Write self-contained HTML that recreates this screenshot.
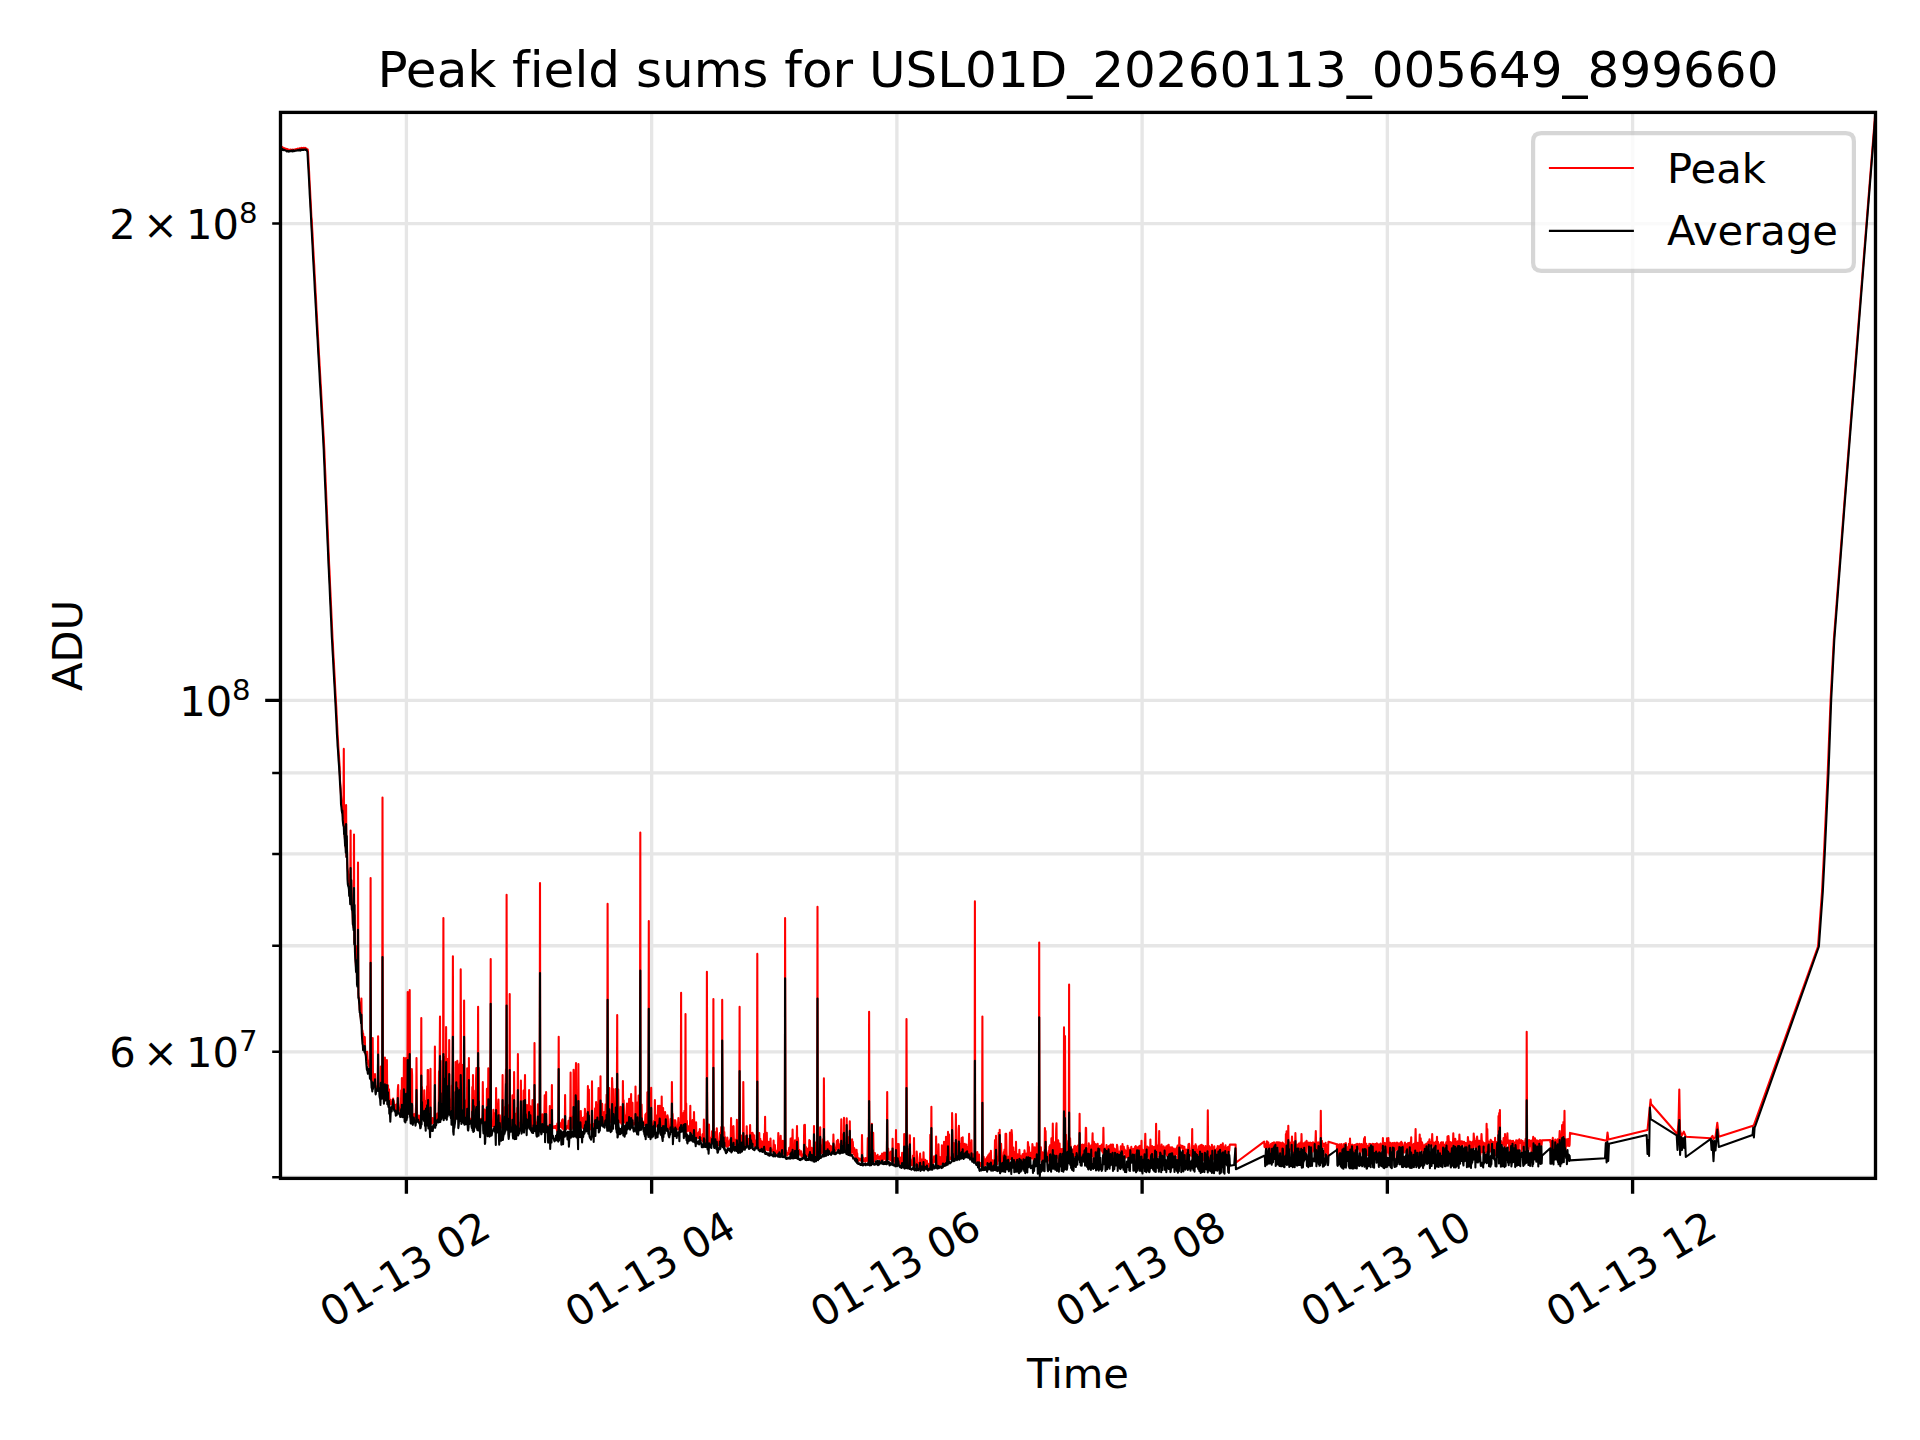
<!DOCTYPE html>
<html lang="en"><head><meta charset="utf-8"><title>Peak field sums for USL01D_20260113_005649_899660</title>
<style>html,body{margin:0;padding:0;background:#fff;overflow:hidden}svg{display:block}text{font-variant-ligatures:none;fill:#000}</style></head>
<body>
<svg width="1920" height="1440" viewBox="0 0 1920 1440">
<defs><clipPath id="ax"><rect x="280.5" y="112.4" width="1595.0" height="1066.0"/></clipPath></defs>
<rect width="1920" height="1440" fill="#fff"/>
<path d="M406.40 1178.4V112.4M651.64 1178.4V112.4M896.88 1178.4V112.4M1142.12 1178.4V112.4M1387.36 1178.4V112.4M1632.60 1178.4V112.4M280.5 700.40H1875.5M280.5 223.57H1875.5M280.5 772.88H1875.5M280.5 853.91H1875.5M280.5 945.76H1875.5M280.5 1051.81H1875.5M280.5 1177.23H1875.5" fill="none" stroke="#e6e6e6" stroke-width="3.33" clip-path="url(#ax)"/>
<path d="M406.40 1178.4v15.4M651.64 1178.4v15.4M896.88 1178.4v15.4M1142.12 1178.4v15.4M1387.36 1178.4v15.4M1632.60 1178.4v15.4M280.5 700.40h-15.3" fill="none" stroke="#000" stroke-width="3.33"/>
<path d="M280.5 223.57h-8.3M280.5 772.88h-8.3M280.5 853.91h-8.3M280.5 945.76h-8.3M280.5 1051.81h-8.3M280.5 1177.23h-8.3" fill="none" stroke="#000" stroke-width="2.5"/>
<g clip-path="url(#ax)" fill="none" stroke-width="2.08" stroke-linejoin="round" stroke-linecap="butt">
<path d="M280.5 146.3L280.8 146.2L281.2 146.7L281.5 146.9L281.9 146.8L282.2 147.0L282.5 147.4L282.9 147.7L283.2 147.9L283.6 148.1L283.9 148.4L284.2 148.2L284.6 148.7L284.9 148.5L285.3 148.5L285.6 149.0L285.9 148.9L286.3 148.9L286.6 149.5L287.0 149.0L287.3 149.0L287.6 149.3L288.0 149.2L288.3 149.7L288.7 149.9L289.0 150.2L289.3 150.2L289.7 150.0L290.0 149.5L290.4 149.5L290.7 149.8L291.0 149.7L291.4 149.9L291.7 149.7L292.1 149.8L292.4 149.9L292.7 149.6L293.1 149.7L293.4 149.7L293.8 149.7L294.1 149.5L294.4 149.9L294.8 149.5L295.1 149.5L295.5 149.8L295.8 149.6L296.1 149.1L296.5 149.1L296.8 149.3L297.2 149.3L297.5 149.4L297.8 148.7L298.2 148.9L298.5 148.7L298.9 148.7L299.2 148.4L299.5 148.4L299.9 148.6L300.2 148.2L300.6 148.2L300.9 148.4L301.2 148.2L301.6 147.9L301.9 148.3L302.3 148.6L302.6 148.1L302.9 148.2L303.3 147.8L303.6 148.6L304.0 148.4L304.3 148.0L304.6 148.2L305.0 147.8L305.3 148.4L305.7 148.2L306.0 148.9L306.3 148.6L306.7 148.8L307.0 149.2L307.4 149.2L307.7 149.5L308.0 151.9L308.4 158.9L308.7 165.5L309.1 171.8L309.4 178.5L309.7 184.9L310.1 190.7L310.4 197.2L310.8 204.1L311.1 210.3L311.4 217.0L311.8 220.7L312.1 227.3L312.5 233.5L312.8 239.8L313.1 246.6L313.5 252.6L313.8 259.2L314.2 265.0L314.5 271.9L314.8 277.8L315.2 284.3L315.5 290.7L315.9 297.3L316.2 303.0L316.5 310.0L316.9 315.9L317.2 322.3L317.6 329.2L317.9 334.9L318.2 340.5L318.6 347.1L318.9 353.2L319.3 359.1L319.6 365.3L319.9 370.9L320.3 377.1L320.6 382.9L321.0 388.6L321.3 395.0L321.6 400.6L322.0 407.3L322.3 412.7L322.7 419.1L323.0 424.7L323.3 431.1L323.7 437.1L324.0 443.2L324.4 451.4L324.7 459.5L325.0 467.3L325.4 475.2L325.7 483.5L326.1 492.0L326.4 499.5L326.7 507.5L327.1 515.7L327.4 524.1L327.8 532.1L328.1 540.4L328.4 548.4L328.8 555.7L329.1 563.8L329.5 570.8L329.8 578.5L330.1 585.9L330.5 593.3L330.8 600.9L331.2 608.8L331.5 615.9L331.8 623.2L332.2 630.8L332.5 638.1L332.9 643.8L333.2 650.8L333.5 656.9L333.9 662.8L334.2 669.0L334.6 676.0L334.9 682.1L335.2 688.3L335.6 695.0L335.9 700.9L336.3 707.3L336.6 714.3L336.9 720.7L337.3 727.8L337.6 734.5L338.0 740.4L338.3 746.2L338.6 751.5L339.0 756.3L339.3 761.5L339.7 767.2L340.0 780.5L340.4 785.3L340.7 790.4L341.0 795.4L341.4 800.2L341.7 803.5L342.1 807.5L342.4 808.8L342.7 814.2L343.1 818.2L343.4 821.6L343.8 748.9L344.1 828.9L344.4 831.9L344.8 836.5L345.1 840.5L345.5 844.7L345.8 847.9L346.1 805.0L346.5 856.4L346.8 840.0L347.2 856.1L347.5 868.0L347.8 870.2L348.2 874.6L348.5 878.4L348.9 874.8L349.2 886.0L349.5 887.9L349.9 890.9L350.2 895.5L350.6 830.6L350.9 900.9L351.2 880.0L351.6 902.0L351.9 909.2L352.3 907.6L352.6 913.5L352.9 924.0L353.3 924.5L353.6 927.3L354.0 834.5L354.3 942.8L354.6 915.0L355.0 952.1L355.3 952.0L355.7 962.3L356.0 967.0L356.3 970.0L356.7 946.3L357.0 979.1L357.4 982.6L357.7 968.2L358.0 862.5L358.4 993.9L358.7 996.7L359.1 1000.8L359.4 1003.8L359.7 1009.5L360.1 1011.9L360.4 1014.8L360.8 1017.5L361.1 1022.1L361.4 998.6L361.8 1026.5L362.1 1030.0L362.5 1030.8L362.8 1034.9L363.1 1033.4L363.5 1037.8L363.8 1042.4L364.2 1042.7L364.5 1045.2L364.8 1037.0L365.2 1050.9L365.5 1053.1L365.9 1054.0L366.2 1053.9L366.5 1056.9L366.9 1058.3L367.2 1051.8L367.6 1059.5L367.9 1060.1L368.2 1064.9L368.6 1064.9L368.9 1065.9L369.3 1066.1L369.6 1070.1L369.9 1068.0L370.3 1069.8L370.6 878.0L371.0 1073.8L371.3 1074.3L371.6 1077.1L372.0 1076.6L372.3 1078.3L372.7 1038.1L373.0 1080.4L373.3 1080.9L373.7 1083.5L374.0 1083.1L374.4 1083.3L374.7 1083.7L375.0 1074.0L375.4 1087.2L375.7 1086.0L376.1 1087.8L376.4 1088.8L376.7 1086.7L377.1 1089.2L377.4 1088.4L377.8 1085.5L378.1 1036.3L378.4 1088.4L378.8 1090.3L379.1 1087.3L379.5 1089.3L379.8 1089.1L380.1 1091.9L380.5 1092.8L380.8 1066.5L381.2 1092.9L381.5 1094.4L381.8 1093.8L382.2 1092.1L382.5 797.5L382.9 1092.9L383.2 1093.5L383.5 1093.8L383.9 1094.0L384.2 1097.0L384.6 1094.3L384.9 1057.6L385.2 1098.4L385.6 1096.0L385.9 1095.7L386.3 1097.5L386.6 1080.8L386.9 1060.0L387.3 1099.2L387.6 1099.4L388.0 1085.4L388.3 1097.7L388.6 1100.1L389.0 1089.3L389.3 1099.7L389.7 1101.7L390.0 1102.4L390.3 1104.5L390.7 1099.7L391.0 1104.4L391.4 1104.2L391.7 1103.0L392.0 1104.2L392.4 1102.1L392.7 1105.2L393.1 1098.5L393.4 1103.7L393.7 1100.6L394.1 1102.9L394.4 1107.3L394.8 1107.0L395.1 1104.8L395.4 1105.4L395.8 1107.2L396.1 1110.6L396.5 1105.9L396.8 1110.0L397.1 1103.7L397.5 1104.1L397.8 1090.1L398.2 1085.0L398.5 1102.7L398.8 1107.9L399.2 1108.5L399.5 1109.9L399.9 1108.3L400.2 1109.5L400.5 1112.8L400.9 1109.3L401.2 1090.3L401.6 1112.9L401.9 1078.1L402.2 1111.8L402.6 1111.2L402.9 1111.8L403.3 1110.3L403.6 1113.0L403.9 1057.9L404.3 1104.6L404.6 1115.7L405.0 1110.4L405.3 1111.9L405.6 1113.5L406.0 1058.0L406.3 1110.9L406.7 1115.2L407.0 1111.3L407.3 1113.4L407.7 992.0L408.0 1113.3L408.4 1110.6L408.7 1111.1L409.0 1112.0L409.4 1059.2L409.7 990.0L410.1 1115.5L410.4 1114.4L410.7 1116.0L411.1 1116.7L411.4 1115.3L411.8 1069.0L412.1 1075.0L412.4 1118.7L412.8 1115.6L413.1 1116.9L413.5 1115.5L413.8 1114.3L414.1 1117.0L414.5 1117.5L414.8 1118.1L415.2 1113.9L415.5 1116.1L415.8 1111.0L416.2 1103.0L416.5 1058.0L416.9 1106.3L417.2 1120.0L417.5 1116.1L417.9 1117.9L418.2 1119.0L418.6 1119.1L418.9 1115.6L419.2 1120.2L419.6 1121.7L419.9 1120.1L420.3 1121.2L420.6 1121.2L420.9 1122.4L421.3 1018.0L421.6 1116.5L422.0 1087.1L422.3 1117.5L422.6 1118.8L423.0 1110.9L423.3 1115.6L423.7 1117.2L424.0 1120.0L424.3 1090.3L424.7 1104.2L425.0 1122.7L425.4 1122.5L425.7 1122.3L426.0 1100.8L426.4 1110.5L426.7 1122.9L427.1 1086.3L427.4 1124.8L427.7 1070.1L428.1 1070.0L428.4 1120.6L428.8 1124.4L429.1 1124.7L429.4 1104.8L429.8 1119.6L430.1 1123.4L430.5 1068.9L430.8 1123.0L431.1 1122.6L431.5 1123.1L431.8 1123.0L432.2 1123.5L432.5 1118.1L432.8 1123.0L433.2 1120.5L433.5 1119.2L433.9 1118.4L434.2 1118.8L434.5 1121.1L434.9 1046.5L435.2 1119.1L435.6 1120.5L435.9 1120.8L436.2 1119.8L436.6 1120.6L436.9 1117.7L437.3 1113.6L437.6 1117.5L437.9 1118.0L438.3 1118.0L438.6 1119.2L439.0 1071.4L439.3 1095.6L439.6 1066.6L440.0 1016.5L440.3 1117.5L440.7 1060.9L441.0 1115.3L441.3 1112.3L441.7 1113.1L442.0 1093.1L442.4 1111.9L442.7 1111.7L443.0 1111.6L443.4 918.0L443.7 1111.6L444.1 1056.8L444.4 1106.2L444.7 1114.6L445.1 1109.3L445.4 1109.9L445.8 1086.6L446.1 1027.0L446.4 1112.5L446.8 1111.9L447.1 1068.5L447.5 1110.8L447.8 1111.1L448.1 1058.7L448.5 1110.7L448.8 1110.7L449.2 1040.0L449.5 1107.1L449.8 1112.3L450.2 1111.5L450.5 1113.0L450.9 1112.2L451.2 1099.4L451.5 1115.8L451.9 1085.6L452.2 1090.7L452.6 1060.3L452.9 956.2L453.2 1115.9L453.6 1115.1L453.9 1114.9L454.3 1115.7L454.6 1119.2L454.9 1116.6L455.3 1117.3L455.6 1062.0L456.0 1065.1L456.3 1067.5L456.6 1115.4L457.0 1108.7L457.3 1060.7L457.7 1071.6L458.0 1082.6L458.3 1118.4L458.7 1119.6L459.0 1118.8L459.4 1064.3L459.7 1115.7L460.1 1063.0L460.4 1118.2L460.7 969.4L461.1 1065.1L461.4 1115.8L461.8 1065.7L462.1 1116.5L462.4 1065.1L462.8 1120.0L463.1 1119.9L463.5 1116.4L463.8 1120.4L464.1 1000.5L464.5 1115.6L464.8 1111.7L465.2 1100.3L465.5 1119.2L465.8 1119.0L466.2 1117.9L466.5 1117.9L466.9 1111.8L467.2 1068.3L467.5 1106.4L467.9 1119.4L468.2 1121.1L468.6 1121.0L468.9 1058.0L469.2 1119.2L469.6 1120.8L469.9 1120.3L470.3 1121.3L470.6 1118.7L470.9 1119.7L471.3 1122.6L471.6 1121.2L472.0 1121.3L472.3 1087.0L472.6 1121.8L473.0 1075.0L473.3 1121.4L473.7 1090.5L474.0 1122.2L474.3 1116.2L474.7 1121.5L475.0 1122.0L475.4 1121.1L475.7 1120.9L476.0 1080.0L476.4 1068.0L476.7 1123.1L477.1 1115.2L477.4 1122.6L477.7 1108.1L478.1 1006.8L478.4 1125.9L478.8 1067.9L479.1 1122.5L479.4 1123.6L479.8 1122.4L480.1 1125.0L480.5 1123.2L480.8 1121.7L481.1 1118.8L481.5 1121.9L481.8 1121.3L482.2 1119.9L482.5 1119.5L482.8 1082.0L483.2 1120.4L483.5 1122.1L483.9 1116.7L484.2 1121.9L484.5 1109.5L484.9 1123.8L485.2 1122.2L485.6 1123.7L485.9 1124.9L486.2 1110.2L486.6 1124.5L486.9 1088.9L487.3 1123.6L487.6 1123.5L487.9 1123.9L488.3 1068.2L488.6 1126.5L489.0 1127.1L489.3 1118.0L489.6 1122.0L490.0 1120.8L490.3 1100.9L490.7 959.0L491.0 1124.9L491.3 1123.8L491.7 1122.0L492.0 1126.7L492.4 1123.0L492.7 1125.3L493.0 1123.7L493.4 1109.7L493.7 1126.2L494.1 1123.2L494.4 1113.0L494.7 1124.0L495.1 1126.3L495.4 1124.0L495.8 1124.6L496.1 1088.0L496.4 1126.8L496.8 1123.1L497.1 1123.8L497.5 1126.3L497.8 1124.8L498.1 1108.4L498.5 1099.6L498.8 1120.9L499.2 1124.0L499.5 1123.3L499.8 1115.3L500.2 1121.8L500.5 1127.1L500.9 1124.7L501.2 1123.6L501.5 1124.2L501.9 1124.9L502.2 1127.8L502.6 1075.0L502.9 1126.4L503.2 1120.2L503.6 1122.5L503.9 1125.7L504.3 1121.6L504.6 1120.5L504.9 1107.1L505.3 1125.1L505.6 1084.1L506.0 1069.4L506.3 1115.7L506.6 894.8L507.0 1123.4L507.3 1123.4L507.7 1126.6L508.0 1105.2L508.3 1123.2L508.7 1110.0L509.0 1122.5L509.4 1124.1L509.7 994.0L510.0 1127.6L510.4 1125.6L510.7 1126.2L511.1 1124.9L511.4 1125.3L511.7 1126.3L512.1 1125.2L512.4 1095.4L512.8 1124.4L513.1 1125.5L513.4 1116.6L513.8 1125.6L514.1 1072.0L514.5 1125.3L514.8 1123.4L515.1 1113.5L515.5 1125.3L515.8 1120.0L516.2 1126.0L516.5 1127.3L516.8 1124.9L517.2 1107.8L517.5 1124.9L517.9 1054.0L518.2 1120.2L518.5 1125.0L518.9 1126.4L519.2 1122.9L519.6 1123.0L519.9 1128.2L520.2 1127.5L520.6 1123.1L520.9 1080.5L521.3 1124.8L521.6 1129.1L521.9 1123.3L522.3 1124.5L522.6 1125.9L523.0 1123.7L523.3 1124.5L523.6 1090.5L524.0 1119.7L524.3 1098.5L524.7 1091.3L525.0 1075.0L525.3 1107.0L525.7 1108.0L526.0 1124.1L526.4 1124.9L526.7 1126.7L527.0 1105.1L527.4 1124.9L527.7 1127.5L528.1 1124.5L528.4 1124.8L528.7 1124.1L529.1 1090.0L529.4 1125.7L529.8 1124.1L530.1 1125.8L530.4 1106.3L530.8 1125.9L531.1 1125.6L531.5 1127.3L531.8 1124.2L532.1 1120.8L532.5 1100.0L532.8 1127.5L533.2 1127.5L533.5 1113.3L533.8 1127.2L534.2 1125.1L534.5 1043.0L534.9 1123.7L535.2 1124.5L535.5 1127.6L535.9 1122.6L536.2 1128.0L536.6 1128.6L536.9 1126.0L537.2 1122.8L537.6 1118.1L537.9 1104.4L538.3 1127.3L538.6 1130.2L538.9 1126.8L539.3 1125.4L539.6 1128.7L540.0 883.0L540.3 1112.4L540.6 1127.3L541.0 1127.5L541.3 1124.1L541.7 1127.9L542.0 1126.7L542.3 1114.3L542.7 1124.9L543.0 1126.5L543.4 1126.3L543.7 1127.0L544.0 1123.7L544.4 1113.5L544.7 1095.3L545.1 1126.3L545.4 1128.8L545.7 1110.5L546.1 1092.0L546.4 1125.4L546.8 1127.2L547.1 1127.2L547.4 1125.9L547.8 1126.5L548.1 1126.0L548.5 1129.3L548.8 1127.1L549.1 1128.3L549.5 1128.8L549.8 1106.1L550.2 1128.9L550.5 1127.8L550.8 1130.1L551.2 1127.5L551.5 1126.2L551.9 1085.0L552.2 1124.6L552.5 1127.0L552.9 1127.7L553.2 1126.7L553.6 1127.4L553.9 1128.0L554.2 1126.3L554.6 1126.9L554.9 1127.2L555.3 1126.1L555.6 1128.2L555.9 1128.3L556.3 1126.1L556.6 1125.5L557.0 1130.6L557.3 1123.6L557.6 1128.3L558.0 1128.4L558.3 1127.8L558.7 1036.7L559.0 1125.7L559.3 1123.1L559.7 1122.6L560.0 1126.1L560.4 1125.9L560.7 1124.6L561.0 1127.1L561.4 1127.4L561.7 1124.6L562.1 1120.0L562.4 1128.1L562.7 1119.4L563.1 1127.2L563.4 1129.5L563.8 1125.7L564.1 1124.1L564.4 1126.8L564.8 1128.9L565.1 1095.0L565.5 1128.9L565.8 1128.2L566.1 1128.2L566.5 1128.8L566.8 1127.1L567.2 1126.0L567.5 1127.7L567.8 1127.6L568.2 1125.5L568.5 1120.8L568.9 1128.6L569.2 1128.8L569.5 1126.9L569.9 1117.4L570.2 1129.2L570.6 1072.6L570.9 1126.4L571.2 1129.5L571.6 1129.2L571.9 1128.1L572.3 1127.3L572.6 1116.5L572.9 1127.4L573.3 1126.4L573.6 1069.7L574.0 1099.0L574.3 1080.6L574.6 1107.5L575.0 1128.4L575.3 1120.4L575.7 1074.8L576.0 1063.0L576.3 1128.0L576.7 1129.2L577.0 1096.7L577.4 1129.1L577.7 1127.5L578.1 1126.7L578.4 1064.0L578.7 1120.4L579.1 1126.3L579.4 1127.1L579.8 1125.8L580.1 1127.7L580.4 1112.5L580.8 1111.1L581.1 1120.6L581.5 1126.5L581.8 1124.3L582.1 1117.7L582.5 1127.4L582.8 1121.4L583.2 1128.4L583.5 1127.3L583.8 1124.0L584.2 1116.7L584.5 1127.1L584.9 1108.9L585.2 1112.1L585.5 1127.2L585.9 1113.8L586.2 1126.9L586.6 1123.5L586.9 1124.8L587.2 1126.7L587.6 1115.1L587.9 1086.0L588.3 1129.3L588.6 1105.3L588.9 1089.6L589.3 1127.0L589.6 1124.8L590.0 1129.4L590.3 1124.9L590.6 1126.9L591.0 1124.8L591.3 1127.7L591.7 1128.0L592.0 1081.4L592.3 1127.4L592.7 1126.1L593.0 1127.2L593.4 1124.1L593.7 1124.8L594.0 1126.7L594.4 1124.8L594.7 1125.9L595.1 1108.4L595.4 1124.7L595.7 1120.2L596.1 1102.0L596.4 1124.9L596.8 1104.5L597.1 1125.2L597.4 1111.2L597.8 1124.5L598.1 1121.7L598.5 1088.0L598.8 1122.7L599.1 1123.1L599.5 1121.8L599.8 1122.8L600.2 1120.6L600.5 1076.3L600.8 1123.2L601.2 1108.2L601.5 1122.1L601.9 1121.0L602.2 1103.9L602.5 1119.4L602.9 1122.4L603.2 1121.4L603.6 1123.4L603.9 1121.9L604.2 1112.1L604.6 1120.3L604.9 1123.0L605.3 1113.7L605.6 1104.3L605.9 1120.6L606.3 1121.8L606.6 1094.7L607.0 1122.7L607.3 1120.6L607.6 903.7L608.0 1083.7L608.3 1115.6L608.7 1122.0L609.0 1121.0L609.3 1088.1L609.7 1122.6L610.0 1119.6L610.4 1121.2L610.7 1121.9L611.0 1120.7L611.4 1118.1L611.7 1116.6L612.1 1078.0L612.4 1088.1L612.7 1121.1L613.1 1120.5L613.4 1089.0L613.8 1122.4L614.1 1119.6L614.4 1118.5L614.8 1119.9L615.1 1115.8L615.5 1121.0L615.8 1089.0L616.1 1120.2L616.5 1119.4L616.8 1114.9L617.2 1015.0L617.5 1122.2L617.8 1116.4L618.2 1089.3L618.5 1110.4L618.9 1114.6L619.2 1122.2L619.5 1115.9L619.9 1109.9L620.2 1122.5L620.6 1106.7L620.9 1120.5L621.2 1118.5L621.6 1123.9L621.9 1117.8L622.3 1116.3L622.6 1122.7L622.9 1081.0L623.3 1122.1L623.6 1100.2L624.0 1110.3L624.3 1120.8L624.6 1122.4L625.0 1121.2L625.3 1120.0L625.7 1115.2L626.0 1123.9L626.3 1119.0L626.7 1108.4L627.0 1103.5L627.4 1121.7L627.7 1114.2L628.0 1122.8L628.4 1123.4L628.7 1123.7L629.1 1098.8L629.4 1125.2L629.7 1123.0L630.1 1124.7L630.4 1122.6L630.8 1119.5L631.1 1094.0L631.4 1124.4L631.8 1125.9L632.1 1119.8L632.5 1102.7L632.8 1125.2L633.1 1122.7L633.5 1122.8L633.8 1123.3L634.2 1124.2L634.5 1123.8L634.8 1123.9L635.2 1124.4L635.5 1086.6L635.9 1123.2L636.2 1124.5L636.5 1126.9L636.9 1125.9L637.2 1123.2L637.6 1102.4L637.9 1125.8L638.2 1122.4L638.6 1095.6L638.9 1125.5L639.3 1114.3L639.6 1127.1L639.9 1124.9L640.3 832.5L640.6 1113.6L641.0 1119.0L641.3 1128.3L641.6 1104.6L642.0 1121.9L642.3 1124.8L642.7 1122.5L643.0 1121.6L643.3 1125.7L643.7 1123.1L644.0 1125.2L644.4 1124.3L644.7 1122.9L645.0 1124.4L645.4 1114.5L645.7 1124.2L646.1 1113.5L646.4 1123.6L646.7 1115.1L647.1 1127.4L647.4 1092.3L647.8 1125.9L648.1 1107.3L648.4 1125.7L648.8 921.0L649.1 1126.5L649.5 1092.6L649.8 1114.0L650.1 1125.7L650.5 1126.3L650.8 1126.0L651.2 1087.8L651.5 1125.1L651.8 1126.2L652.2 1125.2L652.5 1125.5L652.9 1127.0L653.2 1126.1L653.5 1125.4L653.9 1121.0L654.2 1121.4L654.6 1126.0L654.9 1100.0L655.2 1126.6L655.6 1126.9L655.9 1125.6L656.3 1119.1L656.6 1126.3L656.9 1115.4L657.3 1126.0L657.6 1126.4L658.0 1105.9L658.3 1128.4L658.6 1119.2L659.0 1122.2L659.3 1108.5L659.7 1105.7L660.0 1109.2L660.3 1123.3L660.7 1126.3L661.0 1128.5L661.4 1124.6L661.7 1096.5L662.0 1120.8L662.4 1128.2L662.7 1124.6L663.1 1108.0L663.4 1127.0L663.7 1126.6L664.1 1129.4L664.4 1127.4L664.8 1126.6L665.1 1112.0L665.4 1124.6L665.8 1116.3L666.1 1126.5L666.5 1125.3L666.8 1128.1L667.1 1126.9L667.5 1115.3L667.8 1117.1L668.2 1128.5L668.5 1128.8L668.8 1128.7L669.2 1126.4L669.5 1127.0L669.9 1129.2L670.2 1126.3L670.5 1119.1L670.9 1129.0L671.2 1126.1L671.6 1128.6L671.9 1082.0L672.2 1114.0L672.6 1113.8L672.9 1125.8L673.3 1128.7L673.6 1125.3L673.9 1127.1L674.3 1120.3L674.6 1127.6L675.0 1131.3L675.3 1120.4L675.6 1122.5L676.0 1126.8L676.3 1128.3L676.7 1129.5L677.0 1129.2L677.3 1128.4L677.7 1128.4L678.0 1125.8L678.4 1118.1L678.7 1127.2L679.0 1129.8L679.4 1129.4L679.7 1124.2L680.1 1122.6L680.4 1129.0L680.7 1130.3L681.1 992.8L681.4 1128.1L681.8 1130.5L682.1 1127.4L682.4 1118.9L682.8 1125.2L683.1 1130.3L683.5 1112.7L683.8 1130.3L684.1 1120.4L684.5 1110.7L684.8 1114.9L685.2 1122.3L685.5 1014.0L685.8 1121.9L686.2 1103.6L686.5 1131.9L686.9 1120.7L687.2 1131.0L687.5 1125.6L687.9 1126.2L688.2 1130.0L688.6 1130.6L688.9 1129.8L689.2 1129.2L689.6 1129.5L689.9 1131.7L690.3 1105.8L690.6 1132.2L690.9 1131.3L691.3 1123.3L691.6 1133.2L692.0 1133.1L692.3 1129.8L692.6 1120.0L693.0 1130.7L693.3 1133.7L693.7 1134.7L694.0 1112.0L694.3 1125.8L694.7 1136.6L695.0 1134.4L695.4 1133.7L695.7 1136.1L696.1 1122.3L696.4 1138.4L696.7 1134.5L697.1 1135.9L697.4 1135.7L697.8 1133.4L698.1 1135.2L698.4 1138.0L698.8 1132.1L699.1 1137.3L699.5 1132.8L699.8 1129.1L700.1 1138.9L700.5 1139.1L700.8 1139.7L701.2 1138.8L701.5 1137.8L701.8 1139.8L702.2 1140.0L702.5 1134.4L702.9 1141.4L703.2 1138.5L703.5 1141.8L703.9 1119.5L704.2 1139.1L704.6 1141.8L704.9 1140.4L705.2 1140.2L705.6 1142.8L705.9 1142.7L706.3 1139.6L706.6 1138.0L706.9 971.8L707.3 1114.6L707.6 1140.2L708.0 1141.6L708.3 1143.8L708.6 1140.8L709.0 1124.5L709.3 1136.7L709.7 1137.3L710.0 1141.2L710.3 1140.9L710.7 1142.7L711.0 1142.9L711.4 1141.5L711.7 1143.0L712.0 1131.3L712.4 1136.3L712.7 1142.3L713.1 1141.4L713.4 999.0L713.7 1129.4L714.1 1144.3L714.4 1144.2L714.8 1144.4L715.1 1143.4L715.4 1132.3L715.8 1144.5L716.1 1144.0L716.5 1144.6L716.8 1128.2L717.1 1134.7L717.5 1143.2L717.8 1141.4L718.2 1145.0L718.5 1144.7L718.8 1145.2L719.2 1143.8L719.5 1143.0L719.9 1133.1L720.2 1143.7L720.5 1141.7L720.9 1136.5L721.2 1127.1L721.6 1136.4L721.9 1142.0L722.2 999.8L722.6 1136.1L722.9 1145.1L723.3 1136.9L723.6 1127.4L723.9 1143.9L724.3 1132.1L724.6 1144.4L725.0 1137.1L725.3 1145.6L725.6 1141.3L726.0 1144.2L726.3 1143.2L726.7 1144.4L727.0 1146.8L727.3 1137.6L727.7 1143.2L728.0 1146.4L728.4 1144.4L728.7 1144.2L729.0 1143.6L729.4 1145.1L729.7 1140.5L730.1 1140.2L730.4 1139.0L730.7 1141.3L731.1 1118.0L731.4 1145.6L731.8 1145.0L732.1 1145.1L732.4 1140.9L732.8 1140.3L733.1 1126.5L733.5 1126.2L733.8 1137.2L734.1 1144.3L734.5 1141.1L734.8 1144.7L735.2 1145.0L735.5 1145.2L735.8 1139.5L736.2 1140.1L736.5 1147.0L736.9 1119.8L737.2 1141.7L737.5 1134.3L737.9 1145.3L738.2 1148.2L738.6 1145.5L738.9 1138.6L739.2 1143.5L739.6 1006.8L739.9 1142.9L740.3 1145.2L740.6 1146.2L740.9 1138.6L741.3 1143.5L741.6 1135.5L742.0 1143.0L742.3 1136.9L742.6 1144.8L743.0 1145.4L743.3 1082.0L743.7 1133.2L744.0 1145.4L744.3 1143.8L744.7 1144.6L745.0 1143.3L745.4 1136.5L745.7 1140.7L746.0 1146.3L746.4 1142.8L746.7 1126.3L747.1 1144.3L747.4 1144.0L747.7 1143.3L748.1 1144.1L748.4 1139.0L748.8 1141.4L749.1 1141.1L749.4 1138.6L749.8 1139.0L750.1 1125.0L750.5 1143.7L750.8 1145.3L751.1 1132.8L751.5 1143.2L751.8 1141.5L752.2 1144.8L752.5 1132.9L752.8 1143.9L753.2 1134.4L753.5 1143.0L753.9 1144.2L754.2 1135.2L754.5 1146.3L754.9 1144.4L755.2 1140.2L755.6 1141.7L755.9 1147.0L756.2 1145.5L756.6 1145.8L756.9 1143.8L757.3 953.9L757.6 1146.1L757.9 1143.5L758.3 1146.1L758.6 1144.9L759.0 1147.8L759.3 1133.0L759.6 1144.4L760.0 1145.6L760.3 1138.9L760.7 1149.0L761.0 1145.0L761.3 1141.1L761.7 1142.9L762.0 1147.2L762.4 1148.7L762.7 1146.7L763.0 1147.6L763.4 1141.4L763.7 1145.4L764.1 1133.8L764.4 1144.0L764.7 1145.8L765.1 1116.7L765.4 1150.0L765.8 1137.9L766.1 1145.8L766.4 1141.3L766.8 1132.7L767.1 1148.9L767.5 1150.2L767.8 1141.8L768.1 1146.8L768.5 1149.7L768.8 1141.9L769.2 1150.5L769.5 1147.8L769.8 1147.7L770.2 1148.5L770.5 1138.5L770.9 1149.8L771.2 1150.8L771.5 1150.7L771.9 1149.8L772.2 1151.0L772.6 1150.1L772.9 1150.4L773.2 1151.8L773.6 1140.6L773.9 1148.2L774.3 1150.2L774.6 1150.4L774.9 1145.1L775.3 1152.6L775.6 1150.3L776.0 1153.3L776.3 1152.5L776.6 1151.4L777.0 1152.6L777.3 1153.0L777.7 1152.7L778.0 1148.4L778.3 1133.0L778.7 1140.6L779.0 1151.3L779.4 1147.8L779.7 1152.5L780.0 1151.5L780.4 1152.1L780.7 1135.8L781.1 1151.5L781.4 1146.5L781.7 1148.4L782.1 1143.6L782.4 1154.3L782.8 1140.7L783.1 1153.7L783.4 1152.7L783.8 1153.8L784.1 1150.8L784.5 1147.8L784.8 1152.0L785.1 918.0L785.5 1151.6L785.8 1152.3L786.2 1150.4L786.5 1152.8L786.8 1153.6L787.2 1155.6L787.5 1153.1L787.9 1154.4L788.2 1153.9L788.5 1152.9L788.9 1151.2L789.2 1147.9L789.6 1154.0L789.9 1151.3L790.2 1154.6L790.6 1138.6L790.9 1155.4L791.3 1145.2L791.6 1154.9L791.9 1138.1L792.3 1145.0L792.6 1129.5L793.0 1153.5L793.3 1151.1L793.6 1152.5L794.0 1152.9L794.3 1152.5L794.7 1153.5L795.0 1140.3L795.3 1151.6L795.7 1155.0L796.0 1153.9L796.4 1153.5L796.7 1142.0L797.0 1126.0L797.4 1156.1L797.7 1137.5L798.1 1140.0L798.4 1154.7L798.7 1154.1L799.1 1154.2L799.4 1150.0L799.8 1152.2L800.1 1154.7L800.4 1154.7L800.8 1153.8L801.1 1151.2L801.5 1156.7L801.8 1155.4L802.1 1155.0L802.5 1154.7L802.8 1155.7L803.2 1155.3L803.5 1155.4L803.8 1156.5L804.2 1125.1L804.5 1154.7L804.9 1124.7L805.2 1149.2L805.5 1153.0L805.9 1154.6L806.2 1147.3L806.6 1156.0L806.9 1155.4L807.2 1154.1L807.6 1155.7L807.9 1148.8L808.3 1156.0L808.6 1155.6L808.9 1156.5L809.3 1140.0L809.6 1157.0L810.0 1140.7L810.3 1155.8L810.6 1157.7L811.0 1154.2L811.3 1158.0L811.7 1147.8L812.0 1155.6L812.3 1158.3L812.7 1153.6L813.0 1150.7L813.4 1154.1L813.7 1157.3L814.0 1126.0L814.4 1156.5L814.7 1149.1L815.1 1142.4L815.4 1157.4L815.8 1156.7L816.1 1155.4L816.4 1148.2L816.8 1153.9L817.1 1157.9L817.5 906.8L817.8 1156.8L818.1 1154.4L818.5 1149.7L818.8 1144.7L819.2 1154.8L819.5 1148.9L819.8 1150.4L820.2 1127.3L820.5 1148.1L820.9 1150.9L821.2 1146.6L821.5 1153.1L821.9 1153.1L822.2 1145.4L822.6 1148.5L822.9 1139.2L823.2 1149.6L823.6 1151.9L823.9 1078.4L824.3 1151.5L824.6 1148.7L824.9 1153.7L825.3 1149.2L825.6 1150.6L826.0 1142.4L826.3 1152.3L826.6 1146.1L827.0 1151.9L827.3 1150.4L827.7 1141.4L828.0 1150.9L828.3 1149.4L828.7 1150.6L829.0 1143.4L829.4 1150.4L829.7 1147.9L830.0 1149.4L830.4 1152.3L830.7 1145.9L831.1 1150.5L831.4 1149.2L831.7 1147.4L832.1 1148.1L832.4 1148.0L832.8 1146.5L833.1 1149.8L833.4 1134.5L833.8 1149.0L834.1 1144.3L834.5 1147.7L834.8 1148.6L835.1 1151.3L835.5 1149.9L835.8 1148.4L836.2 1149.7L836.5 1149.6L836.8 1141.1L837.2 1143.6L837.5 1146.5L837.9 1139.9L838.2 1141.9L838.5 1148.0L838.9 1144.0L839.2 1148.3L839.6 1147.0L839.9 1147.7L840.2 1148.3L840.6 1146.4L840.9 1143.3L841.3 1119.3L841.6 1148.5L841.9 1146.6L842.3 1134.2L842.6 1136.6L843.0 1141.8L843.3 1144.7L843.6 1149.8L844.0 1117.9L844.3 1147.3L844.7 1147.6L845.0 1144.5L845.3 1150.4L845.7 1149.6L846.0 1142.8L846.4 1150.7L846.7 1118.2L847.0 1144.2L847.4 1150.0L847.7 1146.9L848.1 1152.0L848.4 1147.5L848.7 1137.1L849.1 1151.7L849.4 1149.6L849.8 1121.2L850.1 1148.7L850.4 1151.4L850.8 1149.8L851.1 1153.2L851.5 1150.8L851.8 1149.3L852.1 1139.3L852.5 1151.9L852.8 1141.9L853.2 1149.8L853.5 1154.1L853.8 1148.1L854.2 1148.0L854.5 1148.8L854.9 1155.0L855.2 1156.2L855.5 1158.5L855.9 1152.1L856.2 1158.5L856.6 1149.9L856.9 1157.8L857.2 1153.4L857.6 1160.7L857.9 1158.9L858.3 1161.3L858.6 1158.4L858.9 1158.3L859.3 1159.1L859.6 1158.8L860.0 1160.1L860.3 1160.3L860.6 1158.9L861.0 1159.4L861.3 1158.9L861.7 1160.2L862.0 1135.0L862.3 1153.9L862.7 1160.1L863.0 1161.0L863.4 1157.9L863.7 1160.5L864.0 1160.9L864.4 1160.1L864.7 1160.9L865.1 1161.0L865.4 1161.8L865.7 1158.0L866.1 1159.4L866.4 1158.9L866.8 1159.6L867.1 1160.6L867.4 1159.6L867.8 1138.0L868.1 1161.6L868.5 1160.2L868.8 1139.5L869.1 1011.8L869.5 1151.2L869.8 1161.5L870.2 1132.4L870.5 1161.4L870.8 1160.6L871.2 1158.8L871.5 1157.0L871.9 1123.9L872.2 1160.2L872.5 1139.5L872.9 1158.7L873.2 1132.8L873.6 1159.6L873.9 1161.5L874.2 1161.2L874.6 1158.4L874.9 1153.1L875.3 1159.2L875.6 1158.6L875.9 1156.8L876.3 1156.0L876.6 1159.4L877.0 1158.4L877.3 1158.2L877.6 1154.9L878.0 1157.9L878.3 1158.0L878.7 1157.9L879.0 1159.0L879.3 1156.9L879.7 1156.8L880.0 1158.5L880.4 1155.9L880.7 1156.9L881.0 1160.4L881.4 1159.7L881.7 1159.1L882.1 1153.6L882.4 1158.6L882.7 1159.7L883.1 1159.9L883.4 1157.0L883.8 1158.9L884.1 1152.6L884.4 1156.7L884.8 1158.4L885.1 1158.3L885.5 1152.8L885.8 1160.7L886.1 1161.2L886.5 1160.3L886.8 1158.8L887.2 1092.0L887.5 1158.9L887.8 1156.9L888.2 1148.6L888.5 1158.2L888.9 1159.0L889.2 1152.4L889.5 1157.7L889.9 1159.5L890.2 1160.2L890.6 1153.6L890.9 1151.6L891.2 1159.5L891.6 1161.1L891.9 1160.0L892.3 1159.3L892.6 1138.8L892.9 1161.3L893.3 1161.0L893.6 1161.3L894.0 1160.4L894.3 1158.1L894.6 1160.7L895.0 1158.7L895.3 1163.6L895.7 1156.6L896.0 1130.0L896.3 1159.6L896.7 1157.1L897.0 1161.6L897.4 1154.9L897.7 1144.0L898.0 1156.9L898.4 1154.0L898.7 1144.0L899.1 1164.0L899.4 1162.0L899.7 1164.0L900.1 1162.4L900.4 1157.5L900.8 1163.5L901.1 1161.4L901.4 1161.9L901.8 1164.2L902.1 1152.9L902.5 1162.0L902.8 1163.4L903.1 1162.3L903.5 1155.4L903.8 1162.0L904.2 1134.0L904.5 1162.6L904.8 1162.6L905.2 1164.4L905.5 1164.4L905.9 1143.7L906.2 1164.3L906.5 1019.0L906.9 1134.8L907.2 1134.0L907.6 1165.5L907.9 1164.4L908.2 1165.4L908.6 1165.6L908.9 1149.2L909.3 1149.1L909.6 1163.7L909.9 1135.2L910.3 1163.5L910.6 1159.2L911.0 1162.8L911.3 1164.7L911.6 1165.0L912.0 1163.9L912.3 1164.5L912.7 1165.5L913.0 1155.6L913.3 1159.1L913.7 1165.6L914.0 1138.0L914.4 1166.8L914.7 1163.8L915.0 1163.2L915.4 1164.0L915.7 1164.9L916.1 1164.4L916.4 1165.6L916.7 1151.6L917.1 1157.0L917.4 1166.7L917.8 1166.0L918.1 1163.6L918.4 1163.0L918.8 1166.9L919.1 1167.0L919.5 1165.5L919.8 1158.6L920.1 1153.6L920.5 1161.0L920.8 1164.7L921.2 1164.1L921.5 1161.0L921.8 1159.5L922.2 1164.5L922.5 1165.6L922.9 1165.4L923.2 1165.1L923.5 1152.3L923.9 1163.8L924.2 1163.9L924.6 1165.7L924.9 1161.8L925.2 1159.8L925.6 1165.6L925.9 1165.6L926.3 1163.9L926.6 1167.3L926.9 1160.7L927.3 1166.6L927.6 1164.4L928.0 1163.7L928.3 1165.1L928.6 1165.9L929.0 1164.5L929.3 1167.1L929.7 1164.7L930.0 1165.2L930.3 1134.8L930.7 1157.1L931.0 1162.3L931.4 1106.7L931.7 1164.8L932.0 1161.5L932.4 1164.5L932.7 1164.9L933.1 1162.1L933.4 1159.5L933.8 1161.0L934.1 1156.3L934.4 1160.7L934.8 1162.0L935.1 1160.7L935.5 1156.4L935.8 1162.9L936.1 1136.6L936.5 1164.9L936.8 1158.7L937.2 1164.7L937.5 1163.4L937.8 1160.6L938.2 1165.9L938.5 1144.3L938.9 1163.7L939.2 1164.9L939.5 1163.3L939.9 1157.1L940.2 1162.8L940.6 1164.7L940.9 1161.8L941.2 1161.0L941.6 1164.2L941.9 1145.2L942.3 1158.9L942.6 1160.2L942.9 1157.5L943.3 1147.2L943.6 1163.5L944.0 1141.8L944.3 1160.1L944.6 1158.7L945.0 1161.3L945.3 1159.4L945.7 1163.5L946.0 1136.7L946.3 1161.3L946.7 1157.0L947.0 1154.0L947.4 1145.3L947.7 1157.2L948.0 1131.9L948.4 1158.2L948.7 1160.2L949.1 1134.5L949.4 1158.2L949.7 1159.2L950.1 1158.5L950.4 1159.0L950.8 1158.5L951.1 1157.3L951.4 1158.4L951.8 1157.4L952.1 1113.0L952.5 1131.8L952.8 1146.9L953.1 1157.6L953.5 1142.7L953.8 1155.8L954.2 1150.2L954.5 1156.1L954.8 1158.4L955.2 1154.3L955.5 1150.3L955.9 1114.0L956.2 1155.1L956.5 1156.2L956.9 1156.7L957.2 1149.5L957.6 1155.3L957.9 1144.1L958.2 1155.6L958.6 1129.4L958.9 1125.8L959.3 1152.3L959.6 1143.5L959.9 1151.4L960.3 1154.8L960.6 1155.9L961.0 1153.9L961.3 1155.0L961.6 1138.0L962.0 1144.0L962.3 1147.9L962.7 1137.2L963.0 1153.5L963.3 1156.1L963.7 1151.3L964.0 1154.7L964.4 1144.4L964.7 1143.8L965.0 1148.4L965.4 1153.9L965.7 1144.7L966.1 1153.4L966.4 1144.6L966.7 1153.2L967.1 1146.7L967.4 1152.6L967.8 1153.0L968.1 1153.8L968.4 1152.5L968.8 1148.1L969.1 1133.9L969.5 1154.3L969.8 1154.1L970.1 1156.2L970.5 1142.5L970.8 1153.7L971.2 1156.4L971.5 1140.3L971.8 1157.3L972.2 1154.7L972.5 1155.0L972.9 1154.6L973.2 1157.3L973.5 1154.2L973.9 1158.6L974.2 1158.1L974.6 1151.7L974.9 901.4L975.2 1159.6L975.6 1157.9L975.9 1160.2L976.3 1161.5L976.6 1160.4L976.9 1159.4L977.3 1152.1L977.6 1155.1L978.0 1162.8L978.3 1159.6L978.6 1164.5L979.0 1154.6L979.3 1163.6L979.7 1166.3L980.0 1162.9L980.3 1166.3L980.7 1164.5L981.0 1163.6L981.4 1164.3L981.7 1162.4L982.0 1164.4L982.4 1016.5L982.7 1164.2L983.1 1165.4L983.4 1167.4L983.7 1156.9L984.1 1164.0L984.4 1165.5L984.8 1165.4L985.1 1163.3L985.4 1159.2L985.8 1163.6L986.1 1161.5L986.5 1164.4L986.8 1157.4L987.1 1164.3L987.5 1157.1L987.8 1162.7L988.2 1155.2L988.5 1157.1L988.8 1156.5L989.2 1163.6L989.5 1153.5L989.9 1162.7L990.2 1162.8L990.5 1163.7L990.9 1150.7L991.2 1163.5L991.6 1162.3L991.9 1164.6L992.2 1164.6L992.6 1160.4L992.9 1161.1L993.3 1162.4L993.6 1164.7L993.9 1160.3L994.3 1161.1L994.6 1160.3L995.0 1140.0L995.3 1160.0L995.6 1162.2L996.0 1135.7L996.3 1158.3L996.7 1161.0L997.0 1160.8L997.3 1164.1L997.7 1158.0L998.0 1156.6L998.4 1160.6L998.7 1132.8L999.0 1154.3L999.4 1153.7L999.7 1129.8L1000.1 1161.5L1000.4 1157.4L1000.7 1160.7L1001.1 1143.8L1001.4 1154.5L1001.8 1159.0L1002.1 1162.5L1002.4 1161.8L1002.8 1160.0L1003.1 1161.8L1003.5 1157.4L1003.8 1152.1L1004.1 1154.4L1004.5 1149.6L1004.8 1151.5L1005.2 1160.9L1005.5 1133.9L1005.8 1163.0L1006.2 1133.7L1006.5 1150.7L1006.9 1161.3L1007.2 1160.5L1007.5 1159.4L1007.9 1162.1L1008.2 1156.7L1008.6 1157.0L1008.9 1162.6L1009.2 1159.1L1009.6 1154.5L1009.9 1132.5L1010.3 1149.0L1010.6 1158.9L1010.9 1150.9L1011.3 1157.3L1011.6 1130.0L1012.0 1135.0L1012.3 1161.3L1012.6 1162.5L1013.0 1160.1L1013.3 1147.5L1013.7 1157.4L1014.0 1157.8L1014.3 1167.2L1014.7 1152.4L1015.0 1163.4L1015.4 1159.2L1015.7 1166.7L1016.0 1141.8L1016.4 1161.6L1016.7 1166.3L1017.1 1154.9L1017.4 1156.8L1017.7 1154.2L1018.1 1155.2L1018.4 1160.3L1018.8 1165.7L1019.1 1161.8L1019.4 1149.9L1019.8 1159.4L1020.1 1155.6L1020.5 1157.2L1020.8 1159.2L1021.1 1156.4L1021.5 1160.6L1021.8 1159.8L1022.2 1164.6L1022.5 1154.5L1022.8 1154.0L1023.2 1157.6L1023.5 1157.8L1023.9 1155.2L1024.2 1155.6L1024.5 1150.3L1024.9 1153.9L1025.2 1164.6L1025.6 1156.8L1025.9 1158.5L1026.2 1158.7L1026.6 1154.3L1026.9 1153.3L1027.3 1153.4L1027.6 1157.0L1027.9 1142.0L1028.3 1145.6L1028.6 1158.6L1029.0 1147.1L1029.3 1154.9L1029.6 1155.9L1030.0 1159.7L1030.3 1156.2L1030.7 1152.9L1031.0 1158.4L1031.3 1154.0L1031.7 1156.5L1032.0 1157.0L1032.4 1144.0L1032.7 1147.2L1033.0 1158.6L1033.4 1154.2L1033.7 1160.2L1034.1 1158.1L1034.4 1147.3L1034.7 1149.5L1035.1 1148.5L1035.4 1154.7L1035.8 1147.3L1036.1 1164.5L1036.4 1157.9L1036.8 1143.3L1037.1 1151.9L1037.5 1152.2L1037.8 1154.1L1038.1 1156.2L1038.5 1155.2L1038.8 1149.2L1039.2 942.6L1039.5 1154.8L1039.8 1151.7L1040.2 1153.9L1040.5 1151.0L1040.9 1147.2L1041.2 1159.3L1041.5 1154.9L1041.9 1164.5L1042.2 1155.1L1042.6 1152.4L1042.9 1155.3L1043.2 1161.1L1043.6 1160.2L1043.9 1162.5L1044.3 1156.0L1044.6 1153.0L1044.9 1128.0L1045.3 1139.1L1045.6 1131.1L1046.0 1160.6L1046.3 1152.1L1046.6 1154.3L1047.0 1155.9L1047.3 1157.3L1047.7 1157.7L1048.0 1154.8L1048.3 1160.5L1048.7 1150.7L1049.0 1156.1L1049.4 1146.7L1049.7 1165.5L1050.0 1145.4L1050.4 1153.6L1050.7 1152.7L1051.1 1160.3L1051.4 1138.4L1051.8 1152.3L1052.1 1155.6L1052.4 1155.4L1052.8 1123.5L1053.1 1150.3L1053.5 1159.4L1053.8 1151.9L1054.1 1154.8L1054.5 1146.7L1054.8 1142.3L1055.2 1152.8L1055.5 1156.6L1055.8 1151.9L1056.2 1129.2L1056.5 1123.4L1056.9 1157.6L1057.2 1156.9L1057.5 1149.5L1057.9 1156.9L1058.2 1140.3L1058.6 1163.5L1058.9 1153.8L1059.2 1149.4L1059.6 1143.6L1059.9 1155.1L1060.3 1153.0L1060.6 1148.7L1060.9 1163.7L1061.3 1156.1L1061.6 1152.4L1062.0 1159.7L1062.3 1149.0L1062.6 1153.1L1063.0 1153.8L1063.3 1152.2L1063.7 1150.2L1064.0 1027.4L1064.3 1157.0L1064.7 1151.4L1065.0 1036.0L1065.4 1143.0L1065.7 1139.5L1066.0 1134.8L1066.4 1151.1L1066.7 1150.1L1067.1 1157.8L1067.4 1160.1L1067.7 1149.8L1068.1 1149.4L1068.4 1140.7L1068.8 1156.2L1069.1 984.6L1069.4 1147.2L1069.8 1155.3L1070.1 1138.2L1070.5 1150.9L1070.8 1146.4L1071.1 1159.9L1071.5 1148.8L1071.8 1152.0L1072.2 1158.7L1072.5 1149.7L1072.8 1151.4L1073.2 1153.6L1073.5 1149.2L1073.9 1156.0L1074.2 1146.5L1074.5 1147.2L1074.9 1145.8L1075.2 1156.4L1075.6 1146.6L1075.9 1146.8L1076.2 1156.9L1076.6 1152.3L1076.9 1152.5L1077.3 1146.4L1077.6 1152.9L1077.9 1145.5L1078.3 1156.8L1078.6 1146.5L1079.0 1149.4L1079.3 1144.8L1079.6 1113.7L1080.0 1152.2L1080.3 1144.7L1080.7 1146.7L1081.0 1161.8L1081.3 1146.6L1081.7 1158.0L1082.0 1145.0L1082.4 1144.5L1082.7 1159.5L1083.0 1144.7L1083.4 1148.5L1083.7 1146.7L1084.1 1146.1L1084.4 1150.4L1084.7 1144.2L1085.1 1147.5L1085.4 1149.6L1085.8 1127.7L1086.1 1128.0L1086.4 1145.4L1086.8 1153.7L1087.1 1151.6L1087.5 1157.8L1087.8 1153.1L1088.1 1148.6L1088.5 1157.8L1088.8 1143.3L1089.2 1147.5L1089.5 1145.9L1089.8 1155.1L1090.2 1150.3L1090.5 1154.8L1090.9 1147.5L1091.2 1145.4L1091.5 1147.0L1091.9 1146.8L1092.2 1145.8L1092.6 1133.2L1092.9 1156.2L1093.2 1143.7L1093.6 1163.2L1093.9 1141.7L1094.3 1149.3L1094.6 1145.9L1094.9 1143.7L1095.3 1145.6L1095.6 1146.7L1096.0 1160.4L1096.3 1144.5L1096.6 1144.5L1097.0 1158.2L1097.3 1164.6L1097.7 1143.9L1098.0 1162.9L1098.3 1147.7L1098.7 1151.6L1099.0 1149.4L1099.4 1146.5L1099.7 1146.0L1100.0 1146.5L1100.4 1146.0L1100.7 1148.1L1101.1 1146.6L1101.4 1150.7L1101.7 1144.5L1102.1 1145.8L1102.4 1149.8L1102.8 1152.8L1103.1 1148.6L1103.4 1127.7L1103.8 1150.7L1104.1 1154.3L1104.5 1148.3L1104.8 1149.2L1105.1 1148.8L1105.5 1154.2L1105.8 1153.6L1106.2 1153.1L1106.5 1145.1L1106.8 1148.7L1107.2 1157.1L1107.5 1146.6L1107.9 1149.3L1108.2 1162.7L1108.5 1148.6L1108.9 1146.1L1109.2 1155.1L1109.6 1158.1L1109.9 1146.4L1110.2 1145.0L1110.6 1148.2L1110.9 1144.5L1111.3 1146.7L1111.6 1160.3L1111.9 1148.6L1112.3 1153.4L1112.6 1144.5L1113.0 1144.7L1113.3 1154.8L1113.6 1164.7L1114.0 1148.3L1114.3 1153.9L1114.7 1153.3L1115.0 1151.9L1115.3 1149.4L1115.7 1156.1L1116.0 1152.2L1116.4 1149.2L1116.7 1153.8L1117.0 1144.9L1117.4 1146.8L1117.7 1150.1L1118.1 1155.5L1118.4 1152.5L1118.7 1154.0L1119.1 1154.0L1119.4 1156.7L1119.8 1151.2L1120.1 1156.2L1120.4 1165.7L1120.8 1146.4L1121.1 1151.8L1121.5 1160.4L1121.8 1150.4L1122.1 1152.5L1122.5 1144.0L1122.8 1158.9L1123.2 1146.8L1123.5 1152.8L1123.8 1146.9L1124.2 1152.9L1124.5 1149.4L1124.9 1152.6L1125.2 1150.3L1125.5 1157.6L1125.9 1154.0L1126.2 1155.4L1126.6 1157.2L1126.9 1150.7L1127.2 1153.1L1127.6 1145.7L1127.9 1152.1L1128.3 1147.7L1128.6 1153.4L1128.9 1159.2L1129.3 1155.1L1129.6 1154.7L1130.0 1152.6L1130.3 1149.5L1130.6 1154.9L1131.0 1149.7L1131.3 1146.8L1131.7 1153.8L1132.0 1149.6L1132.3 1152.2L1132.7 1153.8L1133.0 1152.6L1133.4 1148.9L1133.7 1160.1L1134.0 1154.1L1134.4 1154.1L1134.7 1162.4L1135.1 1146.7L1135.4 1156.3L1135.7 1146.1L1136.1 1152.3L1136.4 1148.2L1136.8 1155.5L1137.1 1147.4L1137.4 1153.6L1137.8 1162.2L1138.1 1155.5L1138.5 1153.0L1138.8 1146.6L1139.1 1154.9L1139.5 1158.5L1139.8 1145.7L1140.2 1148.8L1140.5 1156.2L1140.8 1150.8L1141.2 1154.1L1141.5 1140.7L1141.9 1159.8L1142.2 1164.7L1142.5 1150.1L1142.9 1149.8L1143.2 1161.8L1143.6 1158.7L1143.9 1158.3L1144.2 1153.7L1144.6 1153.4L1144.9 1148.9L1145.3 1133.8L1145.6 1148.9L1145.9 1157.5L1146.3 1147.4L1146.6 1148.3L1147.0 1156.9L1147.3 1146.5L1147.6 1148.5L1148.0 1150.6L1148.3 1155.4L1148.7 1147.5L1149.0 1148.6L1149.3 1164.3L1149.7 1148.4L1150.0 1159.8L1150.4 1139.5L1150.7 1156.6L1151.0 1150.4L1151.4 1154.1L1151.7 1155.1L1152.1 1146.0L1152.4 1146.6L1152.7 1157.9L1153.1 1156.8L1153.4 1163.2L1153.8 1147.1L1154.1 1157.2L1154.4 1156.5L1154.8 1146.8L1155.1 1149.8L1155.5 1157.8L1155.8 1147.7L1156.1 1123.8L1156.5 1153.3L1156.8 1160.0L1157.2 1157.1L1157.5 1146.4L1157.8 1145.5L1158.2 1151.6L1158.5 1149.2L1158.9 1147.9L1159.2 1131.1L1159.5 1156.1L1159.9 1147.4L1160.2 1149.8L1160.6 1152.9L1160.9 1156.7L1161.2 1149.7L1161.6 1144.6L1161.9 1152.9L1162.3 1146.9L1162.6 1156.9L1162.9 1152.4L1163.3 1155.3L1163.6 1146.4L1164.0 1147.8L1164.3 1147.9L1164.6 1149.7L1165.0 1148.9L1165.3 1149.9L1165.7 1153.7L1166.0 1148.1L1166.3 1146.2L1166.7 1149.9L1167.0 1155.7L1167.4 1154.5L1167.7 1145.5L1168.0 1147.0L1168.4 1146.8L1168.7 1144.9L1169.1 1153.7L1169.4 1147.0L1169.7 1147.9L1170.1 1153.0L1170.4 1153.6L1170.8 1152.7L1171.1 1147.4L1171.5 1147.8L1171.8 1160.9L1172.1 1147.2L1172.5 1156.4L1172.8 1152.0L1173.2 1152.3L1173.5 1150.6L1173.8 1148.5L1174.2 1156.1L1174.5 1153.7L1174.9 1161.5L1175.2 1155.5L1175.5 1149.3L1175.9 1152.2L1176.2 1150.9L1176.6 1148.7L1176.9 1147.2L1177.2 1154.2L1177.6 1145.6L1177.9 1160.1L1178.3 1156.4L1178.6 1148.9L1178.9 1157.0L1179.3 1137.4L1179.6 1154.5L1180.0 1150.2L1180.3 1145.1L1180.6 1145.9L1181.0 1147.6L1181.3 1146.3L1181.7 1145.7L1182.0 1145.7L1182.3 1147.2L1182.7 1148.9L1183.0 1146.4L1183.4 1163.6L1183.7 1156.3L1184.0 1163.3L1184.4 1146.8L1184.7 1154.3L1185.1 1151.4L1185.4 1153.8L1185.7 1153.7L1186.1 1149.5L1186.4 1159.5L1186.8 1160.5L1187.1 1159.4L1187.4 1152.2L1187.8 1155.2L1188.1 1149.2L1188.5 1144.2L1188.8 1150.1L1189.1 1143.8L1189.5 1148.2L1189.8 1155.5L1190.2 1153.2L1190.5 1151.1L1190.8 1154.2L1191.2 1155.7L1191.5 1154.2L1191.9 1149.8L1192.2 1129.0L1192.5 1160.3L1192.9 1147.5L1193.2 1146.0L1193.6 1147.6L1193.9 1155.4L1194.2 1164.1L1194.6 1146.1L1194.9 1151.3L1195.3 1160.2L1195.6 1144.3L1195.9 1152.9L1196.3 1145.9L1196.6 1148.7L1197.0 1156.7L1197.3 1151.1L1197.6 1150.0L1198.0 1155.9L1198.3 1157.0L1198.7 1150.7L1199.0 1146.3L1199.3 1156.3L1199.7 1146.5L1200.0 1150.8L1200.4 1145.4L1200.7 1154.3L1201.0 1157.7L1201.4 1146.4L1201.7 1144.7L1202.1 1153.0L1202.4 1146.2L1202.7 1152.1L1203.1 1145.7L1203.4 1147.7L1203.8 1147.8L1204.1 1160.5L1204.4 1151.2L1204.8 1152.1L1205.1 1152.3L1205.5 1146.1L1205.8 1146.3L1206.1 1148.3L1206.5 1163.1L1206.8 1155.0L1207.2 1149.9L1207.5 1146.9L1207.8 1110.4L1208.2 1156.3L1208.5 1153.9L1208.9 1145.9L1209.2 1147.0L1209.5 1154.4L1209.9 1163.1L1210.2 1147.4L1210.6 1155.1L1210.9 1154.8L1211.2 1148.3L1211.6 1151.3L1211.9 1144.9L1212.3 1149.9L1212.6 1147.2L1212.9 1159.2L1213.3 1151.9L1213.6 1147.2L1214.0 1154.4L1214.3 1146.3L1214.6 1154.7L1215.0 1149.6L1215.3 1153.6L1215.7 1160.5L1216.0 1154.4L1216.3 1152.0L1216.7 1154.0L1217.0 1148.4L1217.4 1150.8L1217.7 1146.1L1218.0 1147.8L1218.4 1150.8L1218.7 1152.8L1219.1 1146.3L1219.4 1154.5L1219.7 1146.8L1220.1 1148.9L1220.4 1146.4L1220.8 1144.8L1221.1 1161.7L1221.4 1153.6L1221.8 1145.6L1222.1 1147.4L1222.5 1151.9L1222.8 1143.2L1223.1 1150.4L1223.5 1158.9L1223.8 1159.1L1224.2 1165.4L1224.5 1147.1L1224.8 1152.7L1225.2 1150.2L1225.5 1145.4L1225.9 1159.4L1226.2 1150.3L1226.5 1153.9L1226.9 1149.2L1227.2 1147.5L1227.6 1156.2L1227.9 1147.0L1228.2 1162.5L1228.6 1150.9L1228.9 1146.5L1229.3 1150.7L1229.6 1146.0L1229.9 1144.6L1235.6 1144.6L1236.1 1162.5L1264.2 1141.7L1264.5 1146.9L1264.9 1147.0L1265.2 1146.4L1265.6 1144.3L1265.9 1149.3L1266.2 1147.9L1266.6 1147.6L1266.9 1141.4L1267.3 1144.7L1267.6 1142.5L1267.9 1143.9L1268.3 1142.4L1268.6 1148.2L1268.9 1147.2L1269.3 1147.8L1269.6 1149.6L1270.0 1153.7L1270.3 1147.7L1270.6 1144.3L1271.0 1143.8L1271.3 1146.9L1271.7 1147.4L1272.0 1147.9L1272.3 1143.0L1272.7 1150.5L1273.0 1143.0L1273.4 1143.5L1273.7 1145.4L1274.0 1142.4L1274.4 1145.6L1274.7 1147.9L1275.1 1153.9L1275.4 1143.9L1275.7 1143.4L1276.1 1149.1L1276.4 1142.3L1276.7 1146.5L1277.1 1143.6L1277.4 1147.0L1277.8 1142.3L1278.1 1142.2L1278.4 1145.7L1278.8 1142.5L1279.1 1142.3L1279.5 1157.0L1279.8 1152.6L1280.1 1142.9L1280.5 1142.8L1280.8 1146.7L1281.2 1150.7L1281.5 1153.9L1281.8 1150.6L1282.2 1150.8L1282.5 1142.5L1282.9 1143.1L1283.2 1144.1L1283.5 1154.6L1283.9 1144.0L1284.2 1146.0L1284.5 1146.0L1284.9 1155.7L1285.2 1154.9L1285.6 1153.0L1285.9 1134.0L1286.2 1142.8L1286.6 1131.4L1286.9 1132.1L1287.3 1142.6L1287.6 1147.7L1287.9 1144.2L1288.3 1125.8L1288.6 1144.3L1289.0 1145.5L1289.3 1147.9L1289.6 1151.1L1290.0 1142.6L1290.3 1146.3L1290.7 1148.7L1291.0 1146.0L1291.3 1143.0L1291.7 1143.9L1292.0 1136.6L1292.3 1148.3L1292.7 1150.4L1293.0 1157.4L1293.4 1142.2L1293.7 1144.9L1294.0 1145.5L1294.4 1143.0L1294.7 1147.8L1295.1 1146.0L1295.4 1133.0L1295.7 1142.4L1296.1 1155.9L1296.4 1152.5L1296.8 1147.1L1297.1 1147.1L1297.4 1144.9L1297.8 1156.8L1298.1 1148.0L1298.5 1147.7L1298.8 1143.6L1299.1 1151.2L1299.5 1150.2L1299.8 1147.9L1300.2 1152.7L1300.5 1142.4L1300.8 1144.2L1301.2 1148.0L1301.5 1134.0L1301.8 1144.0L1302.2 1144.9L1302.5 1148.4L1302.9 1153.2L1303.2 1155.6L1303.5 1143.2L1303.9 1153.1L1304.2 1143.9L1304.6 1148.0L1304.9 1144.0L1305.2 1142.2L1305.6 1142.5L1305.9 1152.5L1306.3 1145.6L1306.6 1140.8L1306.9 1143.8L1307.3 1143.4L1307.6 1144.5L1308.0 1143.2L1308.3 1142.6L1308.6 1153.1L1309.0 1145.8L1309.3 1145.5L1309.6 1142.8L1310.0 1155.2L1310.3 1142.6L1310.7 1142.9L1311.0 1146.5L1311.3 1149.2L1311.7 1143.0L1312.0 1150.1L1312.4 1148.6L1312.7 1151.8L1313.0 1142.3L1313.4 1150.4L1313.7 1142.7L1314.1 1146.5L1314.4 1148.3L1314.7 1143.3L1315.1 1150.4L1315.4 1143.1L1315.8 1131.0L1316.1 1144.4L1316.4 1147.4L1316.8 1151.1L1317.1 1144.6L1317.4 1143.3L1317.8 1146.0L1318.1 1142.4L1318.5 1142.7L1318.8 1151.0L1319.1 1144.5L1319.5 1142.6L1319.8 1143.7L1320.2 1144.9L1320.5 1143.9L1320.8 1110.8L1321.2 1152.9L1321.5 1146.3L1321.9 1140.8L1322.2 1149.4L1322.5 1147.9L1322.9 1143.9L1323.2 1143.7L1323.6 1145.1L1323.9 1144.1L1324.2 1145.4L1324.6 1146.8L1324.9 1143.7L1325.2 1155.9L1325.6 1142.8L1325.9 1149.7L1326.3 1151.1L1326.6 1151.9L1326.9 1145.1L1327.3 1149.4L1327.6 1149.0L1328.0 1158.7L1328.3 1143.1L1328.5 1141.7L1336.7 1144.2L1337.0 1148.5L1337.4 1156.0L1337.7 1144.4L1338.1 1144.6L1338.4 1147.1L1338.7 1149.2L1339.1 1160.4L1339.4 1150.1L1339.8 1144.4L1340.1 1148.5L1340.4 1157.7L1340.8 1148.1L1341.1 1144.7L1341.5 1144.1L1341.8 1148.7L1342.1 1153.7L1342.5 1148.8L1342.8 1148.3L1343.2 1155.6L1343.5 1154.7L1343.8 1144.1L1344.2 1147.7L1344.5 1143.8L1344.9 1143.9L1345.2 1144.0L1345.5 1144.0L1345.9 1143.1L1346.2 1150.6L1346.6 1146.8L1346.9 1148.0L1347.2 1147.8L1347.6 1150.1L1347.9 1156.2L1348.3 1147.3L1348.6 1148.8L1348.9 1143.8L1349.3 1150.8L1349.6 1149.9L1350.0 1138.5L1350.3 1147.1L1350.6 1151.8L1351.0 1144.8L1351.3 1150.5L1351.7 1152.2L1352.0 1145.4L1352.3 1144.6L1352.7 1151.0L1353.0 1145.0L1353.4 1147.7L1353.7 1156.9L1354.0 1150.6L1354.4 1148.0L1354.7 1145.1L1355.1 1152.3L1355.4 1160.7L1355.7 1144.5L1356.1 1154.7L1356.4 1152.9L1356.8 1153.6L1357.1 1143.9L1357.4 1149.8L1357.8 1147.8L1358.1 1146.9L1358.5 1146.7L1358.8 1144.3L1359.1 1144.2L1359.5 1143.8L1359.8 1151.1L1360.2 1156.0L1360.5 1151.3L1360.8 1152.0L1361.2 1148.2L1361.5 1144.0L1361.9 1145.7L1362.2 1144.4L1362.5 1150.0L1362.9 1144.4L1363.2 1148.4L1363.6 1148.2L1363.9 1141.1L1364.2 1138.3L1364.6 1145.2L1364.9 1137.0L1365.3 1157.7L1365.6 1146.7L1365.9 1143.5L1366.3 1143.8L1366.6 1150.4L1367.0 1155.3L1367.3 1151.6L1367.6 1146.1L1368.0 1147.9L1368.3 1155.1L1368.7 1155.6L1369.0 1149.1L1369.3 1143.9L1369.7 1144.0L1370.0 1146.8L1370.4 1144.1L1370.7 1150.3L1371.0 1144.2L1371.4 1148.0L1371.7 1145.1L1372.1 1145.5L1372.4 1150.6L1372.7 1143.9L1373.1 1156.8L1373.4 1146.0L1373.8 1144.0L1374.1 1149.8L1374.4 1146.5L1374.8 1150.6L1375.1 1154.3L1375.5 1144.1L1375.8 1152.9L1376.1 1150.8L1376.5 1152.8L1376.8 1143.2L1377.2 1144.3L1377.5 1152.7L1377.8 1147.4L1378.2 1153.2L1378.5 1149.6L1378.9 1144.3L1379.2 1147.5L1379.5 1152.4L1379.9 1157.2L1380.2 1147.5L1380.6 1143.6L1380.9 1145.5L1381.2 1145.1L1381.6 1145.7L1381.9 1148.1L1382.3 1147.4L1382.6 1153.7L1382.9 1138.0L1383.3 1144.9L1383.6 1147.0L1384.0 1143.9L1384.3 1143.4L1384.6 1143.5L1385.0 1143.1L1385.3 1144.3L1385.7 1149.8L1386.0 1155.4L1386.3 1156.4L1386.7 1150.9L1387.0 1138.3L1387.4 1146.7L1387.7 1144.1L1388.0 1146.7L1388.4 1138.0L1388.7 1153.0L1389.1 1146.7L1389.4 1154.9L1389.7 1142.9L1390.1 1146.5L1390.4 1142.8L1390.8 1144.7L1391.1 1151.4L1391.4 1155.8L1391.8 1148.8L1392.1 1144.3L1392.5 1143.0L1392.8 1143.2L1393.1 1143.9L1393.5 1146.6L1393.8 1147.3L1394.2 1142.9L1394.5 1159.4L1394.8 1148.4L1395.2 1147.1L1395.5 1144.8L1395.9 1144.9L1396.2 1142.8L1396.5 1149.7L1396.9 1142.9L1397.2 1146.5L1397.6 1142.8L1397.9 1143.7L1398.2 1151.8L1398.6 1155.9L1398.9 1143.8L1399.3 1143.6L1399.6 1147.4L1399.9 1144.7L1400.3 1142.8L1400.6 1150.1L1401.0 1146.8L1401.3 1141.9L1401.6 1144.1L1402.0 1150.5L1402.3 1143.0L1402.7 1146.2L1403.0 1145.2L1403.3 1152.4L1403.7 1149.0L1404.0 1145.3L1404.4 1148.5L1404.7 1152.4L1405.0 1142.5L1405.4 1146.9L1405.7 1144.1L1406.1 1145.7L1406.4 1144.4L1406.7 1150.1L1407.1 1145.0L1407.4 1143.7L1407.8 1151.3L1408.1 1143.0L1408.4 1158.3L1408.8 1147.7L1409.1 1144.5L1409.5 1142.8L1409.8 1146.5L1410.1 1144.8L1410.5 1148.3L1410.8 1149.2L1411.2 1137.2L1411.5 1155.7L1411.8 1160.4L1412.2 1149.1L1412.5 1144.9L1412.9 1157.0L1413.2 1144.7L1413.5 1148.8L1413.9 1143.7L1414.2 1146.9L1414.6 1152.6L1414.9 1151.4L1415.2 1144.9L1415.6 1129.0L1415.9 1142.4L1416.3 1143.4L1416.6 1154.2L1416.9 1143.2L1417.3 1146.6L1417.6 1142.8L1418.0 1148.6L1418.3 1143.7L1418.6 1156.4L1419.0 1152.7L1419.3 1146.6L1419.7 1134.5L1420.0 1146.9L1420.3 1142.3L1420.7 1138.4L1421.0 1145.8L1421.4 1150.5L1421.7 1148.7L1422.0 1142.2L1422.4 1143.7L1422.7 1150.6L1423.1 1145.1L1423.4 1155.3L1423.7 1149.4L1424.1 1146.1L1424.4 1145.8L1424.8 1147.9L1425.1 1144.6L1425.4 1153.5L1425.8 1156.5L1426.1 1145.0L1426.5 1143.6L1426.8 1143.8L1427.1 1149.8L1427.5 1150.0L1427.8 1151.3L1428.2 1141.7L1428.5 1143.6L1428.8 1144.1L1429.2 1144.2L1429.5 1139.4L1429.9 1146.4L1430.2 1142.1L1430.5 1143.8L1430.9 1142.1L1431.2 1144.4L1431.6 1144.5L1431.9 1142.3L1432.2 1134.0L1432.6 1144.5L1432.9 1142.4L1433.3 1144.9L1433.6 1153.0L1433.9 1142.8L1434.3 1146.7L1434.6 1146.5L1435.0 1143.7L1435.3 1144.3L1435.6 1141.9L1436.0 1146.1L1436.3 1143.1L1436.7 1146.1L1437.0 1136.8L1437.3 1150.8L1437.7 1142.0L1438.0 1141.9L1438.4 1158.3L1438.7 1147.6L1439.0 1144.8L1439.4 1144.8L1439.7 1147.8L1440.0 1152.4L1440.4 1155.7L1440.7 1142.8L1441.1 1151.5L1441.4 1144.6L1441.7 1142.3L1442.1 1152.9L1442.4 1159.6L1442.8 1150.3L1443.1 1142.3L1443.4 1153.8L1443.8 1148.5L1444.1 1154.8L1444.5 1148.2L1444.8 1158.0L1445.1 1144.6L1445.5 1147.2L1445.8 1153.0L1446.2 1142.2L1446.5 1142.9L1446.8 1149.6L1447.2 1149.4L1447.5 1136.5L1447.9 1146.0L1448.2 1146.2L1448.5 1136.0L1448.9 1141.6L1449.2 1150.0L1449.6 1152.8L1449.9 1152.7L1450.2 1142.0L1450.6 1142.4L1450.9 1145.3L1451.3 1154.9L1451.6 1152.5L1451.9 1147.5L1452.3 1142.3L1452.6 1143.9L1453.0 1143.3L1453.3 1133.2L1453.6 1141.6L1454.0 1144.0L1454.3 1142.0L1454.7 1142.3L1455.0 1145.5L1455.3 1138.9L1455.7 1142.1L1456.0 1146.2L1456.4 1142.8L1456.7 1148.5L1457.0 1149.3L1457.4 1145.6L1457.7 1141.4L1458.1 1142.9L1458.4 1143.3L1458.7 1148.5L1459.1 1145.2L1459.4 1134.5L1459.8 1143.3L1460.1 1148.2L1460.4 1146.5L1460.8 1142.2L1461.1 1141.5L1461.5 1141.3L1461.8 1145.7L1462.1 1144.5L1462.5 1141.6L1462.8 1141.8L1463.2 1142.7L1463.5 1142.5L1463.8 1141.7L1464.2 1141.7L1464.5 1149.3L1464.9 1142.8L1465.2 1145.5L1465.5 1143.4L1465.9 1143.1L1466.2 1148.4L1466.6 1143.3L1466.9 1158.4L1467.2 1147.0L1467.6 1144.4L1467.9 1137.1L1468.3 1141.2L1468.6 1145.1L1468.9 1141.4L1469.3 1143.1L1469.6 1158.7L1470.0 1145.6L1470.3 1141.8L1470.6 1149.9L1471.0 1157.7L1471.3 1142.4L1471.7 1143.0L1472.0 1145.1L1472.3 1154.8L1472.7 1144.5L1473.0 1141.4L1473.4 1147.9L1473.7 1133.5L1474.0 1137.6L1474.4 1138.3L1474.7 1141.7L1475.1 1142.5L1475.4 1141.1L1475.7 1148.0L1476.1 1147.7L1476.4 1144.5L1476.8 1145.2L1477.1 1136.5L1477.4 1141.2L1477.8 1146.2L1478.1 1141.1L1478.5 1154.4L1478.8 1140.9L1479.1 1157.5L1479.5 1140.9L1479.8 1143.2L1480.2 1155.6L1480.5 1153.8L1480.8 1145.9L1481.2 1141.0L1481.5 1134.0L1481.9 1142.1L1482.2 1141.0L1482.5 1152.2L1482.9 1149.9L1483.2 1142.2L1483.6 1145.6L1483.9 1143.0L1484.2 1147.4L1484.6 1146.8L1484.9 1143.3L1485.3 1145.0L1485.6 1152.7L1485.9 1143.2L1486.3 1146.0L1486.6 1123.8L1487.0 1151.5L1487.3 1129.0L1487.6 1143.8L1488.0 1143.5L1488.3 1141.4L1488.7 1143.7L1489.0 1152.3L1489.3 1149.6L1489.7 1142.9L1490.0 1151.6L1490.4 1141.1L1490.7 1139.8L1491.0 1141.2L1491.4 1146.1L1491.7 1144.6L1492.1 1141.6L1492.4 1144.3L1492.7 1143.9L1493.1 1148.9L1493.4 1145.8L1493.8 1147.2L1494.1 1141.8L1494.4 1149.4L1494.8 1146.3L1495.1 1137.9L1495.5 1155.3L1495.8 1142.9L1496.1 1154.8L1496.5 1152.9L1496.8 1142.0L1497.2 1142.4L1497.5 1144.9L1497.8 1141.9L1498.2 1144.9L1498.5 1116.0L1498.9 1150.7L1499.2 1113.0L1499.5 1144.3L1499.9 1110.0L1500.2 1148.4L1500.6 1152.9L1500.9 1140.8L1501.2 1144.3L1501.6 1144.2L1501.9 1144.5L1502.3 1142.5L1502.6 1142.4L1502.9 1142.8L1503.3 1142.2L1503.6 1138.1L1504.0 1145.2L1504.3 1143.6L1504.6 1149.5L1505.0 1134.0L1505.3 1142.1L1505.7 1149.7L1506.0 1142.6L1506.3 1140.8L1506.7 1143.5L1507.0 1140.4L1507.4 1133.4L1507.7 1141.6L1508.0 1142.9L1508.4 1140.2L1508.7 1141.9L1509.1 1148.0L1509.4 1140.7L1509.7 1151.4L1510.1 1149.3L1510.4 1140.5L1510.8 1142.6L1511.1 1145.3L1511.4 1144.5L1511.8 1141.9L1512.1 1141.0L1512.5 1142.9L1512.8 1144.7L1513.1 1140.7L1513.5 1147.3L1513.8 1148.8L1514.2 1143.8L1514.5 1142.5L1514.8 1144.6L1515.2 1142.3L1515.5 1144.3L1515.9 1148.5L1516.2 1140.3L1516.5 1144.8L1516.9 1152.9L1517.2 1146.9L1517.6 1140.5L1517.9 1144.2L1518.2 1141.7L1518.6 1153.9L1518.9 1140.8L1519.3 1139.3L1519.6 1141.2L1519.9 1142.1L1520.3 1142.8L1520.6 1142.3L1521.0 1141.2L1521.3 1140.2L1521.6 1151.2L1522.0 1141.5L1522.3 1148.6L1522.7 1141.0L1523.0 1146.6L1523.3 1143.9L1523.7 1144.2L1524.0 1143.0L1524.4 1146.7L1524.7 1150.7L1525.0 1142.9L1525.4 1140.8L1525.7 1138.7L1526.1 1139.8L1526.4 1142.3L1526.7 1031.7L1527.1 1140.5L1527.4 1141.6L1527.8 1149.4L1528.1 1142.4L1528.4 1150.9L1528.8 1148.6L1529.1 1140.1L1529.5 1141.3L1529.8 1140.5L1530.1 1141.9L1530.5 1143.9L1530.8 1146.5L1531.2 1143.6L1531.5 1152.1L1531.8 1140.5L1532.2 1153.9L1532.5 1143.5L1532.9 1141.0L1533.2 1136.9L1533.5 1138.7L1533.9 1146.6L1534.2 1140.3L1534.6 1140.0L1534.9 1138.2L1535.2 1140.6L1535.6 1143.9L1535.9 1143.9L1536.3 1154.2L1536.6 1144.6L1536.9 1140.2L1537.3 1143.6L1537.6 1151.5L1538.0 1141.3L1538.3 1154.4L1538.6 1146.3L1539.0 1142.3L1539.3 1140.5L1539.7 1141.2L1540.0 1140.0L1540.3 1140.5L1540.7 1145.8L1541.0 1141.3L1541.4 1145.4L1541.7 1144.2L1542.0 1140.4L1550.2 1140.0L1550.4 1142.5L1550.7 1140.9L1551.1 1152.9L1551.4 1141.8L1551.8 1142.8L1552.1 1153.4L1552.5 1140.0L1552.8 1137.8L1553.1 1148.7L1553.5 1145.8L1553.8 1142.1L1554.2 1156.3L1554.5 1141.5L1554.9 1144.9L1555.2 1139.6L1555.5 1144.5L1555.9 1146.4L1556.2 1143.7L1556.6 1142.9L1556.9 1140.4L1557.3 1146.9L1557.6 1139.2L1557.9 1144.6L1558.3 1148.5L1558.6 1140.3L1559.0 1146.5L1559.3 1138.8L1559.7 1131.0L1560.0 1140.5L1560.3 1139.1L1560.7 1141.5L1561.0 1143.1L1561.4 1147.8L1561.7 1142.3L1562.1 1125.0L1562.4 1140.2L1562.7 1140.8L1563.1 1149.3L1563.4 1122.0L1563.8 1151.0L1564.1 1140.5L1564.5 1110.8L1564.8 1141.8L1565.1 1142.4L1565.5 1151.0L1565.8 1146.1L1566.2 1139.5L1566.5 1140.7L1566.9 1146.0L1567.2 1139.3L1567.5 1141.9L1567.9 1140.1L1568.2 1139.0L1568.6 1140.2L1568.9 1146.0L1569.3 1146.0L1569.6 1144.8L1570.0 1132.9L1606.7 1140.8L1607.5 1132.5L1608.4 1139.6L1647.5 1130.0L1650.6 1099.6L1651.0 1104.0L1677.5 1134.2L1678.6 1120.0L1679.3 1089.6L1680.0 1130.0L1681.5 1136.0L1683.8 1131.7L1685.8 1136.7L1710.8 1138.3L1712.5 1135.8L1713.5 1139.0L1715.5 1137.0L1717.3 1122.9L1718.8 1136.7L1753.8 1125.4L1818.0 946.5L1822.0 892.0L1824.0 853.0L1827.7 773.0L1830.6 700.0L1833.8 640.0L1844.2 505.0L1858.0 330.0L1875.3 112.4" stroke="#ff0000"/>
<path d="M280.5 148.5L280.8 149.1L281.2 148.9L281.5 148.9L281.9 148.9L282.2 149.4L282.5 149.9L282.9 149.3L283.2 149.9L283.6 150.2L283.9 149.7L284.2 149.8L284.6 149.9L284.9 150.2L285.3 150.4L285.6 150.5L285.9 150.5L286.3 150.8L286.6 151.3L287.0 150.9L287.3 151.2L287.6 150.8L288.0 151.5L288.3 151.4L288.7 151.1L289.0 151.6L289.3 151.0L289.7 151.1L290.0 151.3L290.4 151.2L290.7 150.9L291.0 150.7L291.4 151.1L291.7 150.6L292.1 151.0L292.4 151.4L292.7 151.1L293.1 150.3L293.4 151.2L293.8 151.3L294.1 150.8L294.4 151.0L294.8 150.7L295.1 150.9L295.5 150.7L295.8 150.3L296.1 150.3L296.5 150.6L296.8 150.5L297.2 150.5L297.5 150.4L297.8 150.1L298.2 150.5L298.5 150.2L298.9 150.1L299.2 150.4L299.5 149.9L299.9 149.5L300.2 150.2L300.6 150.6L300.9 149.8L301.2 149.8L301.6 149.9L301.9 149.6L302.3 149.5L302.6 149.7L302.9 149.9L303.3 149.6L303.6 149.9L304.0 149.8L304.3 149.8L304.6 149.6L305.0 149.4L305.3 149.6L305.7 150.0L306.0 150.0L306.3 149.7L306.7 150.2L307.0 151.0L307.4 151.6L307.7 156.6L308.0 162.4L308.4 168.7L308.7 174.3L309.1 181.3L309.4 187.3L309.7 194.1L310.1 200.7L310.4 206.7L310.8 213.3L311.1 219.4L311.4 226.3L311.8 232.2L312.1 238.8L312.5 245.1L312.8 251.7L313.1 257.9L313.5 264.7L313.8 270.5L314.2 277.0L314.5 283.1L314.8 289.6L315.2 296.0L315.5 302.2L315.9 308.7L316.2 315.3L316.5 321.3L316.9 327.6L317.2 334.2L317.6 339.9L317.9 346.0L318.2 351.9L318.6 358.3L318.9 364.0L319.3 370.0L319.6 375.9L319.9 382.2L320.3 388.0L320.6 394.1L321.0 399.8L321.3 406.4L321.6 411.9L322.0 418.0L322.3 424.0L322.7 430.0L323.0 436.0L323.3 442.4L323.7 449.5L324.0 457.8L324.4 465.4L324.7 474.5L325.0 481.9L325.4 490.2L325.7 498.4L326.1 506.7L326.4 514.3L326.7 523.0L327.1 530.8L327.4 539.2L327.8 546.9L328.1 554.7L328.4 562.6L328.8 570.0L329.1 577.2L329.5 584.7L329.8 592.0L330.1 599.2L330.5 607.0L330.8 614.2L331.2 621.7L331.5 629.7L331.8 636.7L332.2 643.5L332.5 649.9L332.9 656.1L333.2 662.3L333.5 668.3L333.9 675.1L334.2 681.1L334.6 687.4L334.9 693.8L335.2 699.5L335.6 706.3L335.9 712.8L336.3 720.0L336.6 726.5L336.9 733.4L337.3 739.7L337.6 746.0L338.0 750.4L338.3 755.9L338.6 760.6L339.0 765.6L339.3 771.2L339.7 776.4L340.0 783.5L340.4 788.5L340.7 794.2L341.0 804.1L341.4 807.0L341.7 810.4L342.1 812.8L342.4 810.6L342.7 819.9L343.1 823.7L343.4 825.8L343.8 826.4L344.1 834.2L344.4 833.6L344.8 840.0L345.1 845.9L345.5 845.5L345.8 852.6L346.1 824.0L346.5 857.2L346.8 836.0L347.2 864.6L347.5 879.0L347.8 884.0L348.2 886.1L348.5 886.7L348.9 889.2L349.2 895.9L349.5 893.5L349.9 896.7L350.2 904.2L350.6 868.0L350.9 901.7L351.2 880.0L351.6 902.8L351.9 910.0L352.3 908.4L352.6 914.3L352.9 924.8L353.3 925.3L353.6 930.3L354.0 888.0L354.3 944.6L354.6 905.0L355.0 952.9L355.3 958.8L355.7 963.7L356.0 971.2L356.3 972.4L356.7 960.6L357.0 984.5L357.4 986.5L357.7 981.7L358.0 929.8L358.4 998.1L358.7 997.5L359.1 1002.2L359.4 1005.3L359.7 1012.5L360.1 1012.7L360.4 1016.1L360.8 1019.4L361.1 1023.4L361.4 1014.8L361.8 1033.8L362.1 1038.7L362.5 1044.0L362.8 1045.0L363.1 1050.2L363.5 1048.5L363.8 1047.1L364.2 1049.2L364.5 1052.1L364.8 1046.0L365.2 1052.9L365.5 1054.2L365.9 1056.7L366.2 1061.9L366.5 1065.6L366.9 1069.8L367.2 1067.1L367.6 1071.8L367.9 1073.8L368.2 1072.0L368.6 1071.1L368.9 1069.0L369.3 1072.3L369.6 1072.6L369.9 1078.3L370.3 1079.0L370.6 962.8L371.0 1079.5L371.3 1081.7L371.6 1087.8L372.0 1088.3L372.3 1091.5L372.7 1082.2L373.0 1088.9L373.3 1083.9L373.7 1085.1L374.0 1086.4L374.4 1084.8L374.7 1085.8L375.0 1079.4L375.4 1092.4L375.7 1094.4L376.1 1091.6L376.4 1090.1L376.7 1089.0L377.1 1091.1L377.4 1089.2L377.8 1086.3L378.1 1054.5L378.4 1090.1L378.8 1091.1L379.1 1088.1L379.5 1096.1L379.8 1097.8L380.1 1098.5L380.5 1104.9L380.8 1082.9L381.2 1099.0L381.5 1095.2L381.8 1098.7L382.2 1096.5L382.5 957.0L382.9 1093.7L383.2 1098.2L383.5 1094.6L383.9 1103.7L384.2 1097.8L384.6 1101.1L384.9 1084.4L385.2 1099.2L385.6 1099.3L385.9 1096.5L386.3 1100.1L386.6 1097.1L386.9 1085.0L387.3 1104.2L387.6 1101.3L388.0 1092.3L388.3 1106.1L388.6 1107.3L389.0 1100.9L389.3 1113.8L389.7 1113.0L390.0 1114.3L390.3 1121.8L390.7 1112.6L391.0 1107.2L391.4 1109.7L391.7 1111.5L392.0 1108.3L392.4 1105.7L392.7 1106.0L393.1 1099.7L393.4 1104.5L393.7 1104.6L394.1 1110.2L394.4 1111.0L394.8 1111.3L395.1 1111.9L395.4 1110.6L395.8 1115.6L396.1 1112.6L396.5 1112.5L396.8 1115.0L397.1 1112.0L397.5 1112.0L397.8 1098.0L398.2 1108.0L398.5 1112.4L398.8 1113.2L399.2 1114.2L399.5 1113.5L399.9 1115.0L400.2 1116.9L400.5 1116.6L400.9 1111.9L401.2 1109.0L401.6 1116.7L401.9 1104.7L402.2 1114.4L402.6 1117.1L402.9 1114.6L403.3 1116.6L403.6 1116.9L403.9 1089.3L404.3 1114.7L404.6 1121.5L405.0 1119.2L405.3 1122.4L405.6 1121.5L406.0 1093.9L406.3 1118.7L406.7 1119.9L407.0 1112.1L407.3 1117.7L407.7 1060.0L408.0 1114.1L408.4 1111.4L408.7 1111.9L409.0 1112.8L409.4 1078.5L409.7 1054.0L410.1 1116.3L410.4 1118.3L410.7 1123.5L411.1 1117.5L411.4 1120.1L411.8 1103.8L412.1 1105.0L412.4 1124.1L412.8 1124.8L413.1 1122.9L413.5 1120.9L413.8 1117.6L414.1 1120.5L414.5 1120.9L414.8 1121.4L415.2 1123.1L415.5 1125.6L415.8 1123.7L416.2 1118.3L416.5 1090.0L416.9 1121.8L417.2 1121.4L417.5 1120.8L417.9 1120.5L418.2 1119.8L418.6 1122.1L418.9 1121.9L419.2 1123.4L419.6 1122.5L419.9 1124.4L420.3 1128.3L420.6 1128.0L420.9 1126.6L421.3 1075.6L421.6 1124.6L422.0 1102.1L422.3 1118.3L422.6 1119.6L423.0 1111.7L423.3 1116.4L423.7 1118.0L424.0 1120.9L424.3 1110.9L424.7 1117.3L425.0 1125.9L425.4 1124.0L425.7 1130.7L426.0 1108.6L426.4 1113.5L426.7 1123.7L427.1 1105.4L427.4 1125.6L427.7 1120.2L428.1 1100.0L428.4 1128.5L428.8 1126.8L429.1 1125.5L429.4 1114.3L429.8 1130.6L430.1 1137.3L430.5 1107.5L430.8 1126.9L431.1 1130.0L431.5 1127.9L431.8 1128.5L432.2 1131.0L432.5 1126.9L432.8 1130.9L433.2 1125.6L433.5 1125.2L433.9 1126.0L434.2 1127.6L434.5 1125.3L434.9 1085.0L435.2 1127.8L435.6 1125.3L435.9 1125.5L436.2 1124.8L436.6 1121.4L436.9 1120.6L437.3 1120.7L437.6 1119.6L437.9 1122.3L438.3 1122.4L438.6 1122.4L439.0 1102.2L439.3 1106.8L439.6 1092.6L440.0 1056.0L440.3 1121.9L440.7 1093.2L441.0 1117.4L441.3 1119.5L441.7 1113.9L442.0 1104.6L442.4 1117.8L442.7 1117.1L443.0 1117.8L443.4 1054.0L443.7 1120.2L444.1 1078.5L444.4 1116.2L444.7 1115.6L445.1 1118.3L445.4 1115.8L445.8 1105.6L446.1 1062.0L446.4 1117.0L446.8 1119.8L447.1 1087.8L447.5 1116.5L447.8 1114.8L448.1 1086.0L448.5 1111.5L448.8 1113.2L449.2 1074.1L449.5 1107.9L449.8 1114.9L450.2 1113.1L450.5 1115.6L450.9 1118.0L451.2 1111.5L451.5 1124.7L451.9 1110.7L452.2 1122.6L452.6 1089.6L452.9 1036.7L453.2 1131.7L453.6 1134.6L453.9 1127.0L454.3 1127.8L454.6 1125.4L454.9 1123.6L455.3 1119.9L455.6 1092.0L456.0 1101.0L456.3 1082.2L456.6 1118.5L457.0 1118.7L457.3 1088.1L457.7 1106.1L458.0 1106.7L458.3 1128.1L458.7 1125.5L459.0 1121.2L459.4 1090.1L459.7 1121.0L460.1 1105.4L460.4 1120.4L460.7 1075.0L461.1 1094.1L461.4 1124.0L461.8 1113.4L462.1 1122.1L462.4 1110.6L462.8 1120.8L463.1 1120.7L463.5 1120.4L463.8 1123.3L464.1 1036.7L464.5 1124.8L464.8 1124.3L465.2 1117.6L465.5 1122.1L465.8 1123.9L466.2 1124.3L466.5 1124.2L466.9 1122.3L467.2 1108.7L467.5 1121.8L467.9 1130.0L468.2 1130.5L468.6 1127.2L468.9 1080.0L469.2 1122.8L469.6 1123.9L469.9 1123.3L470.3 1122.8L470.6 1121.2L470.9 1120.5L471.3 1123.4L471.6 1126.8L472.0 1128.3L472.3 1111.6L472.6 1130.4L473.0 1100.0L473.3 1132.0L473.7 1106.1L474.0 1131.3L474.3 1124.1L474.7 1123.2L475.0 1125.0L475.4 1126.4L475.7 1126.6L476.0 1109.6L476.4 1107.1L476.7 1128.6L477.1 1124.7L477.4 1130.1L477.7 1124.2L478.1 1053.0L478.4 1130.5L478.8 1101.4L479.1 1129.7L479.4 1129.4L479.8 1125.9L480.1 1137.3L480.5 1125.7L480.8 1122.5L481.1 1119.6L481.5 1122.7L481.8 1122.1L482.2 1120.7L482.5 1120.3L482.8 1106.0L483.2 1130.2L483.5 1133.5L483.9 1133.6L484.2 1133.4L484.5 1122.3L484.9 1143.9L485.2 1142.7L485.6 1129.0L485.9 1128.1L486.2 1121.6L486.6 1127.3L486.9 1107.2L487.3 1127.3L487.6 1136.3L487.9 1130.4L488.3 1099.4L488.6 1127.3L489.0 1132.4L489.3 1133.2L489.6 1136.6L490.0 1134.6L490.3 1122.8L490.7 1003.7L491.0 1135.6L491.3 1134.1L491.7 1135.4L492.0 1133.6L492.4 1131.1L492.7 1130.9L493.0 1130.4L493.4 1128.8L493.7 1128.9L494.1 1130.0L494.4 1126.7L494.7 1131.7L495.1 1130.3L495.4 1130.9L495.8 1144.9L496.1 1110.0L496.4 1131.6L496.8 1132.7L497.1 1130.8L497.5 1130.5L497.8 1131.7L498.1 1125.2L498.5 1115.2L498.8 1132.7L499.2 1144.7L499.5 1140.9L499.8 1123.1L500.2 1131.2L500.5 1135.4L500.9 1132.4L501.2 1140.6L501.5 1134.3L501.9 1131.8L502.2 1136.7L502.6 1100.0L502.9 1140.0L503.2 1137.1L503.6 1135.3L503.9 1132.5L504.3 1132.7L504.6 1133.8L504.9 1116.6L505.3 1131.8L505.6 1105.9L506.0 1084.1L506.3 1120.3L506.6 1005.6L507.0 1125.7L507.3 1129.8L507.7 1127.9L508.0 1118.7L508.3 1134.5L508.7 1138.9L509.0 1136.4L509.4 1131.6L509.7 1070.0L510.0 1128.6L510.4 1130.3L510.7 1127.4L511.1 1131.8L511.4 1131.3L511.7 1127.6L512.1 1131.4L512.4 1119.9L512.8 1135.6L513.1 1138.4L513.4 1134.4L513.8 1131.1L514.1 1100.0L514.5 1128.3L514.8 1139.1L515.1 1125.1L515.5 1129.0L515.8 1128.5L516.2 1139.0L516.5 1129.5L516.8 1131.2L517.2 1126.2L517.5 1135.1L517.9 1090.0L518.2 1135.4L518.5 1133.1L518.9 1133.8L519.2 1131.7L519.6 1129.3L519.9 1129.4L520.2 1128.3L520.6 1127.2L520.9 1101.4L521.3 1129.9L521.6 1133.6L521.9 1132.0L522.3 1131.4L522.6 1130.0L523.0 1124.5L523.3 1129.4L523.6 1101.1L524.0 1132.6L524.3 1112.7L524.7 1109.7L525.0 1100.0L525.3 1115.5L525.7 1114.3L526.0 1127.0L526.4 1130.8L526.7 1135.1L527.0 1119.6L527.4 1125.7L527.7 1128.5L528.1 1125.3L528.4 1125.7L528.7 1124.9L529.1 1112.0L529.4 1126.5L529.8 1124.9L530.1 1129.5L530.4 1115.4L530.8 1128.7L531.1 1130.8L531.5 1128.1L531.8 1132.0L532.1 1132.7L532.5 1128.3L532.8 1130.8L533.2 1133.0L533.5 1125.2L533.8 1130.6L534.2 1130.8L534.5 1085.0L534.9 1127.1L535.2 1131.0L535.5 1129.8L535.9 1125.9L536.2 1132.7L536.6 1136.2L536.9 1136.6L537.2 1130.1L537.6 1129.0L537.9 1116.6L538.3 1132.9L538.6 1135.7L538.9 1131.0L539.3 1129.2L539.6 1129.9L540.0 973.0L540.3 1124.7L540.6 1131.2L541.0 1132.2L541.3 1134.3L541.7 1133.1L542.0 1127.7L542.3 1124.0L542.7 1125.7L543.0 1127.3L543.4 1130.6L543.7 1131.9L544.0 1131.4L544.4 1122.5L544.7 1114.0L545.1 1142.3L545.4 1133.3L545.7 1124.7L546.1 1114.0L546.4 1132.3L546.8 1128.0L547.1 1128.7L547.4 1126.7L547.8 1127.3L548.1 1142.6L548.5 1131.1L548.8 1134.1L549.1 1134.7L549.5 1134.6L549.8 1124.8L550.2 1149.0L550.5 1139.7L550.8 1138.7L551.2 1142.1L551.5 1142.4L551.9 1110.0L552.2 1135.7L552.5 1135.7L552.9 1135.6L553.2 1138.4L553.6 1138.5L553.9 1138.5L554.2 1140.5L554.6 1141.4L554.9 1138.7L555.3 1139.6L555.6 1138.2L555.9 1135.9L556.3 1140.2L556.6 1136.1L557.0 1136.7L557.3 1131.9L557.6 1138.2L558.0 1140.9L558.3 1141.6L558.7 1069.0L559.0 1140.4L559.3 1132.9L559.7 1134.8L560.0 1131.9L560.4 1130.5L560.7 1130.3L561.0 1134.5L561.4 1144.6L561.7 1136.1L562.1 1132.1L562.4 1138.9L562.7 1132.3L563.1 1144.2L563.4 1136.2L563.8 1134.1L564.1 1131.0L564.4 1134.7L564.8 1136.7L565.1 1116.0L565.5 1135.7L565.8 1132.7L566.1 1133.9L566.5 1135.5L566.8 1133.1L567.2 1134.9L567.5 1139.4L567.8 1131.9L568.2 1136.3L568.5 1131.9L568.9 1146.7L569.2 1141.9L569.5 1136.0L569.9 1133.2L570.2 1137.5L570.6 1117.8L570.9 1137.7L571.2 1132.9L571.6 1131.8L571.9 1135.0L572.3 1133.0L572.6 1132.5L572.9 1136.8L573.3 1136.7L573.6 1107.1L574.0 1128.8L574.3 1123.3L574.6 1124.7L575.0 1136.5L575.3 1131.2L575.7 1095.3L576.0 1100.0L576.3 1135.1L576.7 1137.5L577.0 1131.9L577.4 1133.3L577.7 1135.4L578.1 1149.3L578.4 1101.0L578.7 1129.1L579.1 1137.0L579.4 1132.9L579.8 1131.5L580.1 1137.2L580.4 1122.3L580.8 1128.8L581.1 1132.3L581.5 1135.1L581.8 1134.1L582.1 1142.4L582.5 1133.7L582.8 1131.9L583.2 1137.0L583.5 1132.3L583.8 1134.5L584.2 1128.4L584.5 1133.4L584.9 1125.0L585.2 1129.2L585.5 1128.6L585.9 1121.6L586.2 1131.4L586.6 1124.3L586.9 1129.6L587.2 1130.2L587.6 1127.9L587.9 1112.0L588.3 1133.8L588.6 1124.9L588.9 1115.5L589.3 1134.6L589.6 1136.8L590.0 1137.7L590.3 1138.5L590.6 1138.4L591.0 1139.8L591.3 1138.1L591.7 1135.9L592.0 1110.7L592.3 1135.4L592.7 1130.7L593.0 1133.3L593.4 1129.9L593.7 1142.0L594.0 1128.2L594.4 1129.5L594.7 1131.4L595.1 1120.2L595.4 1135.9L595.7 1127.5L596.1 1120.0L596.4 1125.7L596.8 1120.9L597.1 1127.9L597.4 1117.5L597.8 1127.3L598.1 1126.6L598.5 1121.6L598.8 1132.5L599.1 1131.4L599.5 1130.0L599.8 1130.8L600.2 1122.9L600.5 1100.5L600.8 1126.0L601.2 1117.6L601.5 1122.9L601.9 1125.1L602.2 1117.1L602.5 1120.9L602.9 1125.7L603.2 1126.8L603.6 1126.6L603.9 1126.2L604.2 1124.6L604.6 1127.6L604.9 1124.7L605.3 1120.5L605.6 1124.6L605.9 1121.4L606.3 1124.4L606.6 1114.7L607.0 1127.1L607.3 1130.8L607.6 999.8L608.0 1107.5L608.3 1128.6L608.7 1130.7L609.0 1130.2L609.3 1109.3L609.7 1126.3L610.0 1126.5L610.4 1131.4L610.7 1132.1L611.0 1131.4L611.4 1129.8L611.7 1130.9L612.1 1104.0L612.4 1121.6L612.7 1128.8L613.1 1128.7L613.4 1114.1L613.8 1123.7L614.1 1122.4L614.4 1119.3L614.8 1120.7L615.1 1118.3L615.5 1123.6L615.8 1107.6L616.1 1128.9L616.5 1130.1L616.8 1132.6L617.2 1073.7L617.5 1137.4L617.8 1136.9L618.2 1120.3L618.5 1125.5L618.9 1129.7L619.2 1134.1L619.5 1132.1L619.9 1128.8L620.2 1134.2L620.6 1129.2L620.9 1133.7L621.2 1133.3L621.6 1129.9L621.9 1128.6L622.3 1125.2L622.6 1128.1L622.9 1104.0L623.3 1135.5L623.6 1125.6L624.0 1132.5L624.3 1132.0L624.6 1136.7L625.0 1134.1L625.3 1132.2L625.7 1125.2L626.0 1132.7L626.3 1133.6L626.7 1124.4L627.0 1122.6L627.4 1129.5L627.7 1124.2L628.0 1126.9L628.4 1128.2L628.7 1128.5L629.1 1117.0L629.4 1128.1L629.7 1126.9L630.1 1129.6L630.4 1127.0L630.8 1121.6L631.1 1118.0L631.4 1125.2L631.8 1127.6L632.1 1126.1L632.5 1120.2L632.8 1127.7L633.1 1127.3L633.5 1130.4L633.8 1131.6L634.2 1129.0L634.5 1128.6L634.8 1130.6L635.2 1130.3L635.5 1114.0L635.9 1124.0L636.2 1127.8L636.5 1132.3L636.9 1132.5L637.2 1134.3L637.6 1117.4L637.9 1134.2L638.2 1134.6L638.6 1122.6L638.9 1130.6L639.3 1127.0L639.6 1130.0L639.9 1130.1L640.3 970.6L640.6 1125.6L641.0 1124.5L641.3 1129.6L641.6 1118.3L642.0 1122.7L642.3 1125.6L642.7 1123.3L643.0 1122.4L643.3 1126.5L643.7 1131.7L644.0 1130.9L644.4 1134.5L644.7 1134.4L645.0 1136.4L645.4 1127.2L645.7 1139.2L646.1 1124.8L646.4 1126.9L646.7 1124.7L647.1 1131.7L647.4 1125.8L647.8 1134.9L648.1 1132.5L648.4 1136.9L648.8 1008.7L649.1 1136.8L649.5 1123.7L649.8 1130.5L650.1 1133.1L650.5 1139.3L650.8 1130.7L651.2 1107.9L651.5 1133.9L651.8 1137.5L652.2 1131.4L652.5 1129.7L652.9 1130.1L653.2 1136.4L653.5 1126.2L653.9 1126.5L654.2 1125.5L654.6 1128.4L654.9 1122.0L655.2 1132.3L655.6 1138.1L655.9 1136.9L656.3 1132.7L656.6 1137.5L656.9 1132.7L657.3 1134.6L657.6 1137.1L658.0 1125.3L658.3 1133.6L658.6 1129.5L659.0 1126.6L659.3 1124.1L659.7 1118.6L660.0 1122.4L660.3 1129.6L660.7 1134.6L661.0 1134.5L661.4 1135.4L661.7 1128.1L662.0 1136.6L662.4 1139.0L662.7 1141.0L663.1 1126.0L663.4 1137.3L663.7 1132.8L664.1 1133.5L664.4 1132.3L664.8 1133.5L665.1 1125.7L665.4 1129.7L665.8 1119.2L666.1 1128.5L666.5 1128.2L666.8 1129.6L667.1 1131.0L667.5 1128.7L667.8 1129.7L668.2 1132.6L668.5 1135.0L668.8 1136.4L669.2 1137.3L669.5 1135.5L669.9 1134.7L670.2 1134.4L670.5 1127.5L670.9 1132.2L671.2 1129.9L671.6 1130.8L671.9 1103.6L672.2 1126.1L672.6 1127.2L672.9 1144.2L673.3 1136.9L673.6 1132.9L673.9 1136.0L674.3 1129.0L674.6 1133.2L675.0 1135.9L675.3 1127.5L675.6 1129.6L676.0 1129.2L676.3 1129.1L676.7 1137.9L677.0 1133.9L677.3 1134.9L677.7 1134.4L678.0 1135.4L678.4 1132.3L678.7 1133.2L679.0 1133.6L679.4 1141.2L679.7 1128.5L680.1 1127.3L680.4 1130.7L680.7 1131.9L681.1 1125.0L681.4 1129.5L681.8 1131.6L682.1 1131.1L682.4 1129.1L682.8 1128.8L683.1 1131.5L683.5 1125.0L683.8 1138.1L684.1 1133.7L684.5 1124.3L684.8 1135.6L685.2 1136.0L685.5 1124.0L685.8 1136.7L686.2 1134.8L686.5 1140.1L686.9 1134.3L687.2 1142.3L687.5 1143.5L687.9 1135.5L688.2 1136.9L688.6 1140.7L688.9 1141.1L689.2 1139.6L689.6 1139.2L689.9 1138.2L690.3 1132.7L690.6 1138.9L690.9 1140.4L691.3 1134.3L691.6 1138.8L692.0 1140.6L692.3 1136.8L692.6 1135.7L693.0 1141.8L693.3 1138.1L693.7 1138.3L694.0 1130.0L694.3 1136.9L694.7 1142.2L695.0 1142.7L695.4 1142.3L695.7 1146.1L696.1 1137.7L696.4 1142.3L696.7 1143.5L697.1 1142.1L697.4 1141.9L697.8 1143.6L698.1 1143.1L698.4 1142.6L698.8 1141.1L699.1 1144.4L699.5 1143.2L699.8 1137.1L700.1 1143.0L700.5 1140.5L700.8 1142.6L701.2 1143.5L701.5 1144.9L701.8 1147.1L702.2 1146.4L702.5 1144.9L702.9 1147.2L703.2 1146.9L703.5 1145.6L703.9 1138.3L704.2 1144.1L704.6 1143.1L704.9 1147.0L705.2 1143.7L705.6 1144.4L705.9 1146.9L706.3 1147.1L706.6 1146.3L706.9 1078.0L707.3 1134.9L707.6 1149.5L708.0 1149.0L708.3 1147.6L708.6 1153.8L709.0 1146.1L709.3 1143.3L709.7 1145.1L710.0 1146.7L710.3 1147.0L710.7 1146.2L711.0 1145.4L711.4 1148.0L711.7 1144.1L712.0 1139.1L712.4 1140.4L712.7 1143.1L713.1 1143.3L713.4 1067.8L713.7 1139.0L714.1 1147.3L714.4 1148.0L714.8 1146.2L715.1 1146.5L715.4 1139.4L715.8 1146.2L716.1 1147.0L716.5 1149.1L716.8 1141.7L717.1 1147.1L717.5 1152.8L717.8 1152.8L718.2 1151.1L718.5 1149.6L718.8 1148.0L719.2 1149.0L719.5 1148.0L719.9 1141.6L720.2 1149.1L720.5 1147.9L720.9 1146.1L721.2 1134.8L721.6 1144.0L721.9 1142.8L722.2 1040.6L722.6 1142.0L722.9 1147.1L723.3 1141.4L723.6 1137.6L723.9 1148.8L724.3 1142.5L724.6 1150.0L725.0 1149.1L725.3 1150.6L725.6 1152.0L726.0 1153.3L726.3 1152.5L726.7 1150.5L727.0 1152.3L727.3 1149.4L727.7 1150.2L728.0 1148.2L728.4 1150.3L728.7 1149.0L729.0 1149.0L729.4 1148.8L729.7 1149.7L730.1 1151.1L730.4 1149.3L730.7 1150.7L731.1 1138.0L731.4 1152.4L731.8 1150.6L732.1 1151.2L732.4 1150.6L732.8 1148.3L733.1 1146.2L733.5 1142.8L733.8 1148.0L734.1 1149.6L734.5 1146.9L734.8 1150.8L735.2 1148.9L735.5 1148.4L735.8 1146.8L736.2 1148.3L736.5 1151.0L736.9 1140.4L737.2 1149.7L737.5 1144.3L737.9 1152.7L738.2 1152.7L738.6 1152.9L738.9 1150.7L739.2 1152.5L739.6 1071.0L739.9 1149.9L740.3 1152.6L740.6 1152.3L740.9 1149.5L741.3 1151.8L741.6 1142.6L742.0 1151.4L742.3 1142.7L742.6 1150.1L743.0 1149.7L743.3 1133.0L743.7 1142.7L744.0 1149.4L744.3 1148.3L744.7 1149.8L745.0 1148.9L745.4 1147.1L745.7 1148.0L746.0 1147.7L746.4 1147.0L746.7 1135.6L747.1 1146.3L747.4 1145.3L747.7 1145.7L748.1 1146.2L748.4 1147.4L748.8 1148.8L749.1 1149.0L749.4 1146.0L749.8 1144.9L750.1 1135.4L750.5 1148.1L750.8 1146.1L751.1 1140.2L751.5 1146.7L751.8 1147.5L752.2 1147.8L752.5 1143.8L752.8 1149.1L753.2 1148.4L753.5 1149.3L753.9 1149.7L754.2 1150.1L754.5 1150.2L754.9 1148.9L755.2 1147.5L755.6 1148.2L755.9 1148.1L756.2 1148.3L756.6 1146.9L756.9 1145.7L757.3 1081.5L757.6 1147.2L757.9 1147.5L758.3 1149.3L758.6 1150.1L759.0 1149.6L759.3 1150.0L759.6 1151.0L760.0 1151.3L760.3 1149.8L760.7 1150.0L761.0 1149.6L761.3 1150.1L761.7 1148.7L762.0 1151.3L762.4 1151.9L762.7 1151.2L763.0 1151.7L763.4 1151.2L763.7 1151.7L764.1 1146.8L764.4 1150.1L764.7 1152.9L765.1 1151.7L765.4 1154.0L765.8 1152.6L766.1 1154.0L766.4 1153.7L766.8 1153.1L767.1 1154.2L767.5 1154.7L767.8 1154.4L768.1 1153.3L768.5 1155.3L768.8 1154.2L769.2 1155.0L769.5 1155.8L769.8 1154.0L770.2 1154.1L770.5 1148.1L770.9 1154.6L771.2 1154.4L771.5 1155.3L771.9 1155.3L772.2 1154.9L772.6 1155.3L772.9 1155.9L773.2 1156.3L773.6 1152.0L773.9 1155.6L774.3 1156.2L774.6 1156.3L774.9 1153.2L775.3 1156.4L775.6 1154.9L776.0 1155.6L776.3 1155.7L776.6 1155.2L777.0 1155.6L777.3 1155.5L777.7 1155.8L778.0 1156.6L778.3 1153.8L778.7 1155.3L779.0 1156.8L779.4 1152.3L779.7 1156.8L780.0 1157.1L780.4 1156.4L780.7 1155.7L781.1 1156.7L781.4 1153.9L781.7 1155.8L782.1 1150.0L782.4 1156.9L782.8 1155.9L783.1 1157.2L783.4 1156.4L783.8 1157.0L784.1 1156.7L784.5 1156.8L784.8 1156.9L785.1 978.4L785.5 1157.9L785.8 1158.5L786.2 1157.6L786.5 1158.9L786.8 1158.7L787.2 1158.4L787.5 1158.6L787.9 1158.4L788.2 1157.6L788.5 1158.3L788.9 1157.7L789.2 1157.5L789.6 1158.5L789.9 1158.6L790.2 1158.6L790.6 1153.7L790.9 1157.1L791.3 1152.6L791.6 1158.3L791.9 1156.8L792.3 1156.8L792.6 1149.9L793.0 1158.4L793.3 1158.1L793.6 1157.8L794.0 1157.4L794.3 1158.1L794.7 1157.6L795.0 1150.8L795.3 1157.9L795.7 1157.2L796.0 1157.4L796.4 1157.5L796.7 1158.0L797.0 1141.7L797.4 1158.8L797.7 1151.4L798.1 1150.8L798.4 1159.3L798.7 1159.0L799.1 1158.9L799.4 1159.1L799.8 1160.0L800.1 1159.5L800.4 1160.1L800.8 1158.9L801.1 1158.5L801.5 1159.5L801.8 1158.9L802.1 1159.2L802.5 1158.7L802.8 1157.9L803.2 1158.3L803.5 1158.0L803.8 1158.3L804.2 1144.8L804.5 1158.7L804.9 1154.7L805.2 1156.8L805.5 1160.0L805.9 1159.3L806.2 1156.4L806.6 1160.1L806.9 1159.6L807.2 1159.9L807.6 1159.8L807.9 1158.9L808.3 1159.9L808.6 1159.9L808.9 1159.3L809.3 1154.2L809.6 1159.6L810.0 1152.1L810.3 1160.0L810.6 1159.9L811.0 1160.3L811.3 1160.5L811.7 1154.7L812.0 1159.8L812.3 1160.3L812.7 1160.2L813.0 1158.0L813.4 1161.5L813.7 1161.3L814.0 1134.2L814.4 1161.8L814.7 1160.2L815.1 1156.9L815.4 1161.2L815.8 1160.6L816.1 1161.2L816.4 1158.2L816.8 1159.9L817.1 1158.8L817.5 998.6L817.8 1159.7L818.1 1160.1L818.5 1158.3L818.8 1157.9L819.2 1159.0L819.5 1156.2L819.8 1155.0L820.2 1136.9L820.5 1157.8L820.9 1157.9L821.2 1156.5L821.5 1157.0L821.9 1156.5L822.2 1156.6L822.6 1156.1L822.9 1154.8L823.2 1155.2L823.6 1156.5L823.9 1129.0L824.3 1155.8L824.6 1156.1L824.9 1156.1L825.3 1155.9L825.6 1155.7L826.0 1151.0L826.3 1155.6L826.6 1152.5L827.0 1154.8L827.3 1154.7L827.7 1149.3L828.0 1154.4L828.3 1154.8L828.7 1154.1L829.0 1151.0L829.4 1152.9L829.7 1153.4L830.0 1153.9L830.4 1154.0L830.7 1153.7L831.1 1154.9L831.4 1153.3L831.7 1153.7L832.1 1151.9L832.4 1153.5L832.8 1153.1L833.1 1153.7L833.4 1143.6L833.8 1153.7L834.1 1149.6L834.5 1153.2L834.8 1154.1L835.1 1153.5L835.5 1154.2L835.8 1153.0L836.2 1153.7L836.5 1153.3L836.8 1152.5L837.2 1152.0L837.5 1152.0L837.9 1152.0L838.2 1149.8L838.5 1152.8L838.9 1150.0L839.2 1153.2L839.6 1153.3L839.9 1153.7L840.2 1153.0L840.6 1152.7L840.9 1150.5L841.3 1140.9L841.6 1152.5L841.9 1152.9L842.3 1145.7L842.6 1146.5L843.0 1152.8L843.3 1152.2L843.6 1152.5L844.0 1132.7L844.3 1151.7L844.7 1151.7L845.0 1150.5L845.3 1152.3L845.7 1152.3L846.0 1152.3L846.4 1153.9L846.7 1125.1L847.0 1151.9L847.4 1154.4L847.7 1154.2L848.1 1154.6L848.4 1155.0L848.7 1144.7L849.1 1154.3L849.4 1155.0L849.8 1130.9L850.1 1155.6L850.4 1155.2L850.8 1155.5L851.1 1154.9L851.5 1155.6L851.8 1155.6L852.1 1155.1L852.5 1156.8L852.8 1156.7L853.2 1158.6L853.5 1158.2L853.8 1158.0L854.2 1158.8L854.5 1158.6L854.9 1160.2L855.2 1160.5L855.5 1161.1L855.9 1158.5L856.2 1162.0L856.6 1161.2L856.9 1162.8L857.2 1159.8L857.6 1163.3L857.9 1163.2L858.3 1163.9L858.6 1163.1L858.9 1163.3L859.3 1163.5L859.6 1164.2L860.0 1164.0L860.3 1165.0L860.6 1165.0L861.0 1163.8L861.3 1163.9L861.7 1165.0L862.0 1155.0L862.3 1160.1L862.7 1164.3L863.0 1165.6L863.4 1164.0L863.7 1164.5L864.0 1164.7L864.4 1164.7L864.7 1163.9L865.1 1164.2L865.4 1163.7L865.7 1165.3L866.1 1164.8L866.4 1164.2L866.8 1164.2L867.1 1164.5L867.4 1164.0L867.8 1163.4L868.1 1165.0L868.5 1164.4L868.8 1162.9L869.1 1101.0L869.5 1162.1L869.8 1165.5L870.2 1154.9L870.5 1165.0L870.8 1164.5L871.2 1165.1L871.5 1163.0L871.9 1124.7L872.2 1164.2L872.5 1150.0L872.9 1163.5L873.2 1162.5L873.6 1164.0L873.9 1164.0L874.2 1164.8L874.6 1164.5L874.9 1164.2L875.3 1164.1L875.6 1164.4L875.9 1161.4L876.3 1162.8L876.6 1164.3L877.0 1164.3L877.3 1164.2L877.6 1160.7L878.0 1165.1L878.3 1164.1L878.7 1163.5L879.0 1164.7L879.3 1161.0L879.7 1162.9L880.0 1163.5L880.4 1162.7L880.7 1163.5L881.0 1162.4L881.4 1163.3L881.7 1162.9L882.1 1160.5L882.4 1162.9L882.7 1163.8L883.1 1164.0L883.4 1162.4L883.8 1164.2L884.1 1163.7L884.4 1162.1L884.8 1163.4L885.1 1163.9L885.5 1162.0L885.8 1163.8L886.1 1164.0L886.5 1164.2L886.8 1164.2L887.2 1120.0L887.5 1163.3L887.8 1162.8L888.2 1162.4L888.5 1163.4L888.9 1162.1L889.2 1163.9L889.5 1165.4L889.9 1165.3L890.2 1164.1L890.6 1163.1L890.9 1164.3L891.2 1164.1L891.6 1164.6L891.9 1163.8L892.3 1164.7L892.6 1148.6L892.9 1165.1L893.3 1164.4L893.6 1165.4L894.0 1164.9L894.3 1164.7L894.6 1165.1L895.0 1165.7L895.3 1166.3L895.7 1164.1L896.0 1150.0L896.3 1165.3L896.7 1164.9L897.0 1166.3L897.4 1162.9L897.7 1158.3L898.0 1163.8L898.4 1161.0L898.7 1164.6L899.1 1166.1L899.4 1165.6L899.7 1166.5L900.1 1167.1L900.4 1165.6L900.8 1167.3L901.1 1167.0L901.4 1168.0L901.8 1167.7L902.1 1163.1L902.5 1166.3L902.8 1167.1L903.1 1166.7L903.5 1166.7L903.8 1167.6L904.2 1146.5L904.5 1168.6L904.8 1167.1L905.2 1166.8L905.5 1168.2L905.9 1166.0L906.2 1168.1L906.5 1088.0L906.9 1166.0L907.2 1146.1L907.6 1168.2L907.9 1168.5L908.2 1168.1L908.6 1168.2L908.9 1167.3L909.3 1167.2L909.6 1168.9L909.9 1144.4L910.3 1168.5L910.6 1168.7L911.0 1168.7L911.3 1169.7L911.6 1169.4L912.0 1168.9L912.3 1169.0L912.7 1168.5L913.0 1168.2L913.3 1167.3L913.7 1169.5L914.0 1158.0L914.4 1169.7L914.7 1170.4L915.0 1169.5L915.4 1169.0L915.7 1169.1L916.1 1170.1L916.4 1170.5L916.7 1164.2L917.1 1164.9L917.4 1169.2L917.8 1170.0L918.1 1170.3L918.4 1169.1L918.8 1169.5L919.1 1169.5L919.5 1169.4L919.8 1166.2L920.1 1162.9L920.5 1170.9L920.8 1170.5L921.2 1168.7L921.5 1166.2L921.8 1167.6L922.2 1169.5L922.5 1169.8L922.9 1168.4L923.2 1169.8L923.5 1162.0L923.9 1170.4L924.2 1170.4L924.6 1167.9L924.9 1166.7L925.2 1168.2L925.6 1168.7L925.9 1168.8L926.3 1169.0L926.6 1168.8L926.9 1165.5L927.3 1168.4L927.6 1170.1L928.0 1168.4L928.3 1170.5L928.6 1169.0L929.0 1169.7L929.3 1168.9L929.7 1169.0L930.0 1169.7L930.3 1167.8L930.7 1163.9L931.0 1168.7L931.4 1128.0L931.7 1169.7L932.0 1168.5L932.4 1169.7L932.7 1169.0L933.1 1166.5L933.4 1164.9L933.8 1167.1L934.1 1166.4L934.4 1166.4L934.8 1168.4L935.1 1166.7L935.5 1167.7L935.8 1167.8L936.1 1155.4L936.5 1167.3L936.8 1165.3L937.2 1168.5L937.5 1168.6L937.8 1168.3L938.2 1166.9L938.5 1165.9L938.9 1168.2L939.2 1167.7L939.5 1167.2L939.9 1166.5L940.2 1167.0L940.6 1167.4L940.9 1166.5L941.2 1166.3L941.6 1168.1L941.9 1166.3L942.3 1166.4L942.6 1167.6L942.9 1163.6L943.3 1166.5L943.6 1165.8L944.0 1163.9L944.3 1165.9L944.6 1164.6L945.0 1165.5L945.3 1164.2L945.7 1165.6L946.0 1163.1L946.3 1165.3L946.7 1163.0L947.0 1162.8L947.4 1156.6L947.7 1164.8L948.0 1146.3L948.4 1163.7L948.7 1162.9L949.1 1161.4L949.4 1162.5L949.7 1162.4L950.1 1163.3L950.4 1162.8L950.8 1162.6L951.1 1162.1L951.4 1162.1L951.8 1161.3L952.1 1130.0L952.5 1159.8L952.8 1153.8L953.1 1160.8L953.5 1159.1L953.8 1161.2L954.2 1158.9L954.5 1160.2L954.8 1160.6L955.2 1159.7L955.5 1158.5L955.9 1140.0L956.2 1159.4L956.5 1159.4L956.9 1160.1L957.2 1156.2L957.6 1158.9L957.9 1158.2L958.2 1159.2L958.6 1156.8L958.9 1141.5L959.3 1159.7L959.6 1152.9L959.9 1157.3L960.3 1157.6L960.6 1158.8L961.0 1157.5L961.3 1158.6L961.6 1152.1L962.0 1156.7L962.3 1158.2L962.7 1149.4L963.0 1157.6L963.3 1158.3L963.7 1158.9L964.0 1157.8L964.4 1154.2L964.7 1153.6L965.0 1157.3L965.4 1157.4L965.7 1152.9L966.1 1156.9L966.4 1151.7L966.7 1157.1L967.1 1151.3L967.4 1156.9L967.8 1156.3L968.1 1157.7L968.4 1157.8L968.8 1154.2L969.1 1157.4L969.5 1158.5L969.8 1157.9L970.1 1159.5L970.5 1158.5L970.8 1159.1L971.2 1158.9L971.5 1153.3L971.8 1159.7L972.2 1161.6L972.5 1160.6L972.9 1161.6L973.2 1161.2L973.5 1158.6L973.9 1162.8L974.2 1161.3L974.6 1157.0L974.9 1060.8L975.2 1161.5L975.6 1163.6L975.9 1163.9L976.3 1165.0L976.6 1164.4L976.9 1165.2L977.3 1164.8L977.6 1162.2L978.0 1167.3L978.3 1166.3L978.6 1167.7L979.0 1162.4L979.3 1169.8L979.7 1170.8L980.0 1169.7L980.3 1169.7L980.7 1170.4L981.0 1169.4L981.4 1170.5L981.7 1168.5L982.0 1169.9L982.4 1102.8L982.7 1168.5L983.1 1168.9L983.4 1170.1L983.7 1167.6L984.1 1169.6L984.4 1169.9L984.8 1167.4L985.1 1169.9L985.4 1167.1L985.8 1167.9L986.1 1167.5L986.5 1169.7L986.8 1168.5L987.1 1171.6L987.5 1163.0L987.8 1166.7L988.2 1166.9L988.5 1169.5L988.8 1169.1L989.2 1169.1L989.5 1163.7L989.9 1168.7L990.2 1168.5L990.5 1169.8L990.9 1162.5L991.2 1170.6L991.6 1169.3L991.9 1166.2L992.2 1167.4L992.6 1169.7L992.9 1170.8L993.3 1166.2L993.6 1165.5L993.9 1168.2L994.3 1169.9L994.6 1168.5L995.0 1160.0L995.3 1167.8L995.6 1170.2L996.0 1149.7L996.3 1166.3L996.7 1166.1L997.0 1170.3L997.3 1171.1L997.7 1169.2L998.0 1168.1L998.4 1170.7L998.7 1167.0L999.0 1169.6L999.4 1170.8L999.7 1135.0L1000.1 1173.3L1000.4 1170.2L1000.7 1171.8L1001.1 1166.3L1001.4 1171.5L1001.8 1163.2L1002.1 1169.3L1002.4 1167.8L1002.8 1171.3L1003.1 1162.6L1003.5 1171.5L1003.8 1165.4L1004.1 1157.7L1004.5 1155.6L1004.8 1166.3L1005.2 1172.0L1005.5 1156.6L1005.8 1169.7L1006.2 1163.1L1006.5 1167.3L1006.9 1168.8L1007.2 1169.3L1007.5 1160.2L1007.9 1166.9L1008.2 1159.7L1008.6 1168.4L1008.9 1171.3L1009.2 1168.6L1009.6 1165.0L1009.9 1167.9L1010.3 1163.4L1010.6 1162.5L1010.9 1165.6L1011.3 1173.9L1011.6 1161.8L1012.0 1158.0L1012.3 1164.2L1012.6 1163.3L1013.0 1167.7L1013.3 1165.3L1013.7 1164.1L1014.0 1160.0L1014.3 1172.1L1014.7 1161.8L1015.0 1164.8L1015.4 1167.2L1015.7 1171.8L1016.0 1168.7L1016.4 1170.5L1016.7 1171.6L1017.1 1159.9L1017.4 1167.2L1017.7 1165.0L1018.1 1161.8L1018.4 1171.2L1018.8 1173.1L1019.1 1173.2L1019.4 1158.9L1019.8 1166.2L1020.1 1165.2L1020.5 1171.6L1020.8 1160.0L1021.1 1161.3L1021.5 1170.7L1021.8 1162.1L1022.2 1168.9L1022.5 1164.3L1022.8 1164.3L1023.2 1166.0L1023.5 1159.3L1023.9 1167.5L1024.2 1170.9L1024.5 1166.8L1024.9 1160.0L1025.2 1173.1L1025.6 1167.1L1025.9 1159.3L1026.2 1166.6L1026.6 1157.4L1026.9 1164.3L1027.3 1172.5L1027.6 1161.3L1027.9 1160.0L1028.3 1157.3L1028.6 1167.2L1029.0 1166.1L1029.3 1158.1L1029.6 1162.7L1030.0 1161.0L1030.3 1158.1L1030.7 1168.2L1031.0 1167.2L1031.3 1167.9L1031.7 1167.0L1032.0 1166.9L1032.4 1165.5L1032.7 1167.9L1033.0 1172.9L1033.4 1165.0L1033.7 1161.0L1034.1 1171.0L1034.4 1162.0L1034.7 1159.1L1035.1 1163.0L1035.4 1166.5L1035.8 1162.3L1036.1 1166.0L1036.4 1163.6L1036.8 1154.4L1037.1 1155.2L1037.5 1163.6L1037.8 1173.7L1038.1 1164.5L1038.5 1171.3L1038.8 1162.9L1039.2 1017.3L1039.5 1169.1L1039.8 1176.5L1040.2 1170.6L1040.5 1165.1L1040.9 1170.7L1041.2 1171.7L1041.5 1166.1L1041.9 1165.3L1042.2 1161.5L1042.6 1163.3L1042.9 1160.5L1043.2 1170.7L1043.6 1166.5L1043.9 1163.3L1044.3 1164.0L1044.6 1171.2L1044.9 1150.0L1045.3 1156.8L1045.6 1141.7L1046.0 1161.4L1046.3 1157.2L1046.6 1159.1L1047.0 1156.7L1047.3 1163.8L1047.7 1170.3L1048.0 1171.2L1048.3 1170.1L1048.7 1169.8L1049.0 1170.0L1049.4 1164.6L1049.7 1167.4L1050.0 1154.6L1050.4 1154.4L1050.7 1166.8L1051.1 1171.6L1051.4 1163.1L1051.8 1168.9L1052.1 1156.4L1052.4 1168.1L1052.8 1150.0L1053.1 1167.5L1053.5 1168.8L1053.8 1159.3L1054.1 1155.6L1054.5 1155.6L1054.8 1161.1L1055.2 1169.8L1055.5 1166.0L1055.8 1158.0L1056.2 1168.2L1056.5 1155.9L1056.9 1170.9L1057.2 1163.7L1057.5 1170.2L1057.9 1168.5L1058.2 1163.6L1058.6 1167.4L1058.9 1171.8L1059.2 1159.4L1059.6 1155.2L1059.9 1163.2L1060.3 1153.8L1060.6 1165.0L1060.9 1166.6L1061.3 1156.9L1061.6 1170.9L1062.0 1165.7L1062.3 1160.7L1062.6 1153.9L1063.0 1154.6L1063.3 1171.8L1063.7 1168.7L1064.0 1111.4L1064.3 1162.3L1064.7 1169.6L1065.0 1118.0L1065.4 1168.3L1065.7 1166.2L1066.0 1152.4L1066.4 1159.0L1066.7 1169.8L1067.1 1168.9L1067.4 1165.2L1067.7 1151.8L1068.1 1155.5L1068.4 1155.2L1068.8 1161.2L1069.1 1112.6L1069.4 1163.6L1069.8 1156.6L1070.1 1159.4L1070.5 1165.1L1070.8 1147.2L1071.1 1167.9L1071.5 1149.6L1071.8 1168.6L1072.2 1169.9L1072.5 1168.4L1072.8 1154.1L1073.2 1162.5L1073.5 1171.0L1073.9 1164.2L1074.2 1159.1L1074.5 1165.7L1074.9 1165.2L1075.2 1157.2L1075.6 1165.4L1075.9 1167.0L1076.2 1159.6L1076.6 1153.1L1076.9 1154.5L1077.3 1164.7L1077.6 1159.3L1077.9 1160.0L1078.3 1157.6L1078.6 1157.2L1079.0 1159.4L1079.3 1152.8L1079.6 1133.0L1080.0 1162.4L1080.3 1160.3L1080.7 1165.4L1081.0 1163.4L1081.3 1158.1L1081.7 1165.7L1082.0 1160.5L1082.4 1156.2L1082.7 1160.5L1083.0 1157.6L1083.4 1154.3L1083.7 1154.5L1084.1 1162.0L1084.4 1151.2L1084.7 1150.4L1085.1 1165.7L1085.4 1157.3L1085.8 1150.0L1086.1 1148.0L1086.4 1163.0L1086.8 1154.5L1087.1 1166.9L1087.5 1161.1L1087.8 1153.9L1088.1 1168.9L1088.5 1169.5L1088.8 1153.8L1089.2 1168.6L1089.5 1154.3L1089.8 1167.9L1090.2 1157.2L1090.5 1155.6L1090.9 1170.0L1091.2 1149.5L1091.5 1168.4L1091.9 1163.7L1092.2 1163.7L1092.6 1165.8L1092.9 1165.7L1093.2 1168.9L1093.6 1167.1L1093.9 1158.3L1094.3 1164.7L1094.6 1166.7L1094.9 1162.3L1095.3 1168.1L1095.6 1152.4L1096.0 1170.4L1096.3 1160.4L1096.6 1167.9L1097.0 1164.0L1097.3 1169.4L1097.7 1151.4L1098.0 1166.1L1098.3 1148.5L1098.7 1170.6L1099.0 1162.3L1099.4 1149.4L1099.7 1169.3L1100.0 1165.5L1100.4 1157.9L1100.7 1169.2L1101.1 1167.4L1101.4 1164.6L1101.7 1170.9L1102.1 1169.9L1102.4 1169.3L1102.8 1163.3L1103.1 1155.0L1103.4 1155.6L1103.8 1164.2L1104.1 1155.1L1104.5 1149.1L1104.8 1161.4L1105.1 1149.6L1105.5 1170.9L1105.8 1154.4L1106.2 1161.5L1106.5 1151.1L1106.8 1155.7L1107.2 1169.2L1107.5 1157.8L1107.9 1159.5L1108.2 1167.0L1108.5 1149.4L1108.9 1155.0L1109.2 1157.4L1109.6 1168.7L1109.9 1155.7L1110.2 1165.6L1110.6 1154.0L1110.9 1161.6L1111.3 1159.0L1111.6 1164.8L1111.9 1163.2L1112.3 1159.3L1112.6 1152.8L1113.0 1170.9L1113.3 1165.8L1113.6 1169.7L1114.0 1168.4L1114.3 1169.3L1114.7 1162.4L1115.0 1152.7L1115.3 1153.4L1115.7 1160.4L1116.0 1165.4L1116.4 1161.1L1116.7 1161.4L1117.0 1156.6L1117.4 1154.1L1117.7 1170.9L1118.1 1157.0L1118.4 1167.4L1118.7 1160.4L1119.1 1154.8L1119.4 1167.4L1119.8 1165.8L1120.1 1168.8L1120.4 1169.1L1120.8 1162.3L1121.1 1152.6L1121.5 1167.8L1121.8 1151.2L1122.1 1154.4L1122.5 1157.0L1122.8 1162.5L1123.2 1159.8L1123.5 1169.7L1123.8 1160.6L1124.2 1164.5L1124.5 1156.2L1124.9 1171.9L1125.2 1166.8L1125.5 1168.1L1125.9 1168.8L1126.2 1172.2L1126.6 1168.7L1126.9 1161.5L1127.2 1161.9L1127.6 1161.6L1127.9 1166.9L1128.3 1157.7L1128.6 1163.4L1128.9 1160.0L1129.3 1170.5L1129.6 1163.8L1130.0 1170.9L1130.3 1150.3L1130.6 1155.7L1131.0 1161.6L1131.3 1162.7L1131.7 1161.2L1132.0 1157.5L1132.3 1158.9L1132.7 1154.6L1133.0 1156.1L1133.4 1170.7L1133.7 1160.9L1134.0 1154.9L1134.4 1167.2L1134.7 1170.5L1135.1 1161.8L1135.4 1168.6L1135.7 1170.3L1136.1 1172.2L1136.4 1154.1L1136.8 1156.3L1137.1 1150.3L1137.4 1170.8L1137.8 1164.4L1138.1 1163.5L1138.5 1155.3L1138.8 1150.5L1139.1 1155.7L1139.5 1167.5L1139.8 1170.8L1140.2 1170.7L1140.5 1157.0L1140.8 1163.3L1141.2 1160.7L1141.5 1156.6L1141.9 1171.6L1142.2 1165.5L1142.5 1173.4L1142.9 1161.6L1143.2 1165.4L1143.6 1159.5L1143.9 1167.7L1144.2 1161.3L1144.6 1154.2L1144.9 1171.3L1145.3 1155.2L1145.6 1165.1L1145.9 1171.0L1146.3 1172.3L1146.6 1149.5L1147.0 1168.3L1147.3 1170.4L1147.6 1166.0L1148.0 1161.7L1148.3 1159.8L1148.7 1171.4L1149.0 1163.3L1149.3 1172.2L1149.7 1170.9L1150.0 1160.6L1150.4 1164.6L1150.7 1168.1L1151.0 1156.3L1151.4 1154.9L1151.7 1155.9L1152.1 1153.9L1152.4 1168.1L1152.7 1158.7L1153.1 1169.6L1153.4 1169.9L1153.8 1165.8L1154.1 1170.8L1154.4 1171.4L1154.8 1160.8L1155.1 1150.6L1155.5 1158.6L1155.8 1172.0L1156.1 1151.9L1156.5 1166.0L1156.8 1160.8L1157.2 1163.3L1157.5 1159.1L1157.8 1167.9L1158.2 1161.7L1158.5 1166.5L1158.9 1171.6L1159.2 1161.6L1159.5 1156.9L1159.9 1161.8L1160.2 1152.5L1160.6 1153.7L1160.9 1157.5L1161.2 1172.3L1161.6 1160.1L1161.9 1164.1L1162.3 1155.8L1162.6 1169.9L1162.9 1156.2L1163.3 1162.4L1163.6 1162.5L1164.0 1165.5L1164.3 1162.1L1164.6 1150.5L1165.0 1170.0L1165.3 1165.4L1165.7 1167.3L1166.0 1160.3L1166.3 1172.1L1166.7 1167.5L1167.0 1160.4L1167.4 1164.8L1167.7 1156.7L1168.0 1163.4L1168.4 1166.2L1168.7 1168.9L1169.1 1154.5L1169.4 1154.4L1169.7 1162.2L1170.1 1153.8L1170.4 1172.1L1170.8 1171.2L1171.1 1153.7L1171.5 1168.3L1171.8 1165.8L1172.1 1153.2L1172.5 1157.2L1172.8 1166.3L1173.2 1160.2L1173.5 1167.1L1173.8 1156.6L1174.2 1166.4L1174.5 1172.0L1174.9 1162.3L1175.2 1156.3L1175.5 1156.4L1175.9 1166.1L1176.2 1161.6L1176.6 1169.7L1176.9 1171.0L1177.2 1160.1L1177.6 1161.6L1177.9 1172.7L1178.3 1165.2L1178.6 1168.9L1178.9 1171.2L1179.3 1147.6L1179.6 1155.3L1180.0 1151.0L1180.3 1154.3L1180.6 1161.6L1181.0 1162.7L1181.3 1172.1L1181.7 1152.2L1182.0 1161.5L1182.3 1165.1L1182.7 1150.7L1183.0 1160.6L1183.4 1171.5L1183.7 1161.6L1184.0 1165.2L1184.4 1167.3L1184.7 1155.1L1185.1 1166.7L1185.4 1169.6L1185.7 1168.4L1186.1 1165.6L1186.4 1161.0L1186.8 1166.6L1187.1 1160.2L1187.4 1153.0L1187.8 1170.0L1188.1 1150.0L1188.5 1168.7L1188.8 1168.8L1189.1 1154.8L1189.5 1167.1L1189.8 1163.7L1190.2 1163.2L1190.5 1170.8L1190.8 1164.5L1191.2 1161.3L1191.5 1165.8L1191.9 1168.4L1192.2 1160.0L1192.5 1165.4L1192.9 1149.7L1193.2 1165.0L1193.6 1170.3L1193.9 1166.1L1194.2 1166.2L1194.6 1171.6L1194.9 1152.1L1195.3 1166.9L1195.6 1160.7L1195.9 1153.7L1196.3 1166.5L1196.6 1156.5L1197.0 1164.1L1197.3 1155.1L1197.6 1164.7L1198.0 1167.7L1198.3 1168.9L1198.7 1169.3L1199.0 1156.7L1199.3 1170.9L1199.7 1171.2L1200.0 1151.6L1200.4 1153.4L1200.7 1173.0L1201.0 1158.5L1201.4 1166.5L1201.7 1155.5L1202.1 1153.8L1202.4 1172.0L1202.7 1167.3L1203.1 1163.3L1203.4 1166.4L1203.8 1163.5L1204.1 1170.6L1204.4 1172.1L1204.8 1152.9L1205.1 1153.1L1205.5 1154.7L1205.8 1164.4L1206.1 1163.2L1206.5 1169.4L1206.8 1155.8L1207.2 1165.9L1207.5 1151.2L1207.8 1172.5L1208.2 1157.1L1208.5 1158.3L1208.9 1161.9L1209.2 1164.0L1209.5 1170.5L1209.9 1163.9L1210.2 1168.8L1210.6 1171.3L1210.9 1155.6L1211.2 1169.5L1211.6 1168.9L1211.9 1172.9L1212.3 1150.7L1212.6 1169.6L1212.9 1171.6L1213.3 1170.6L1213.6 1164.4L1214.0 1173.2L1214.3 1163.4L1214.6 1164.0L1215.0 1150.4L1215.3 1154.4L1215.7 1170.3L1216.0 1155.2L1216.3 1168.4L1216.7 1154.8L1217.0 1166.1L1217.4 1170.7L1217.7 1169.1L1218.0 1158.4L1218.4 1151.6L1218.7 1153.6L1219.1 1151.4L1219.4 1155.3L1219.7 1173.8L1220.1 1149.7L1220.4 1172.5L1220.8 1172.8L1221.1 1171.2L1221.4 1154.4L1221.8 1165.2L1222.1 1158.1L1222.5 1152.7L1222.8 1167.3L1223.1 1152.4L1223.5 1172.4L1223.8 1166.1L1224.2 1166.2L1224.5 1173.7L1224.8 1162.7L1225.2 1151.0L1225.5 1163.8L1225.9 1160.2L1226.2 1158.3L1226.5 1154.7L1226.9 1164.9L1227.2 1165.5L1227.6 1157.0L1227.9 1163.4L1228.2 1172.2L1228.6 1151.7L1228.9 1173.0L1229.3 1155.0L1229.6 1158.8L1229.9 1165.8L1234.2 1165.0L1235.4 1148.3L1235.9 1169.2L1264.2 1155.8L1264.5 1156.0L1264.9 1157.7L1265.2 1166.2L1265.6 1155.3L1265.9 1150.1L1266.2 1148.7L1266.6 1153.0L1266.9 1164.8L1267.3 1151.8L1267.6 1159.0L1267.9 1159.3L1268.3 1153.2L1268.6 1149.0L1268.9 1163.8L1269.3 1148.6L1269.6 1162.5L1270.0 1157.6L1270.3 1156.8L1270.6 1163.1L1271.0 1153.6L1271.3 1161.8L1271.7 1164.7L1272.0 1148.7L1272.3 1162.8L1272.7 1160.1L1273.0 1162.1L1273.4 1156.0L1273.7 1147.8L1274.0 1149.3L1274.4 1146.4L1274.7 1152.2L1275.1 1159.3L1275.4 1144.7L1275.7 1165.9L1276.1 1162.0L1276.4 1164.8L1276.7 1150.5L1277.1 1158.3L1277.4 1147.8L1277.8 1152.9L1278.1 1157.9L1278.4 1164.6L1278.8 1159.3L1279.1 1158.4L1279.5 1165.9L1279.8 1165.6L1280.1 1153.2L1280.5 1163.2L1280.8 1165.3L1281.2 1166.3L1281.5 1156.1L1281.8 1166.0L1282.2 1165.3L1282.5 1148.5L1282.9 1148.9L1283.2 1156.9L1283.5 1166.4L1283.9 1156.2L1284.2 1167.2L1284.5 1167.1L1284.9 1159.7L1285.2 1162.8L1285.6 1159.0L1285.9 1155.3L1286.2 1163.9L1286.6 1145.6L1286.9 1165.0L1287.3 1154.7L1287.6 1159.1L1287.9 1155.6L1288.3 1140.0L1288.6 1164.8L1289.0 1149.0L1289.3 1167.0L1289.6 1161.1L1290.0 1165.7L1290.3 1162.1L1290.7 1159.7L1291.0 1166.0L1291.3 1154.2L1291.7 1144.7L1292.0 1157.0L1292.3 1161.7L1292.7 1167.1L1293.0 1161.6L1293.4 1162.4L1293.7 1155.7L1294.0 1154.9L1294.4 1152.2L1294.7 1167.3L1295.1 1146.8L1295.4 1141.0L1295.7 1164.2L1296.1 1164.7L1296.4 1153.3L1296.8 1151.9L1297.1 1165.8L1297.4 1148.5L1297.8 1162.4L1298.1 1154.1L1298.5 1148.5L1298.8 1165.1L1299.1 1152.0L1299.5 1151.8L1299.8 1165.0L1300.2 1161.3L1300.5 1156.3L1300.8 1164.9L1301.2 1148.8L1301.5 1163.6L1301.8 1167.6L1302.2 1149.7L1302.5 1167.1L1302.9 1167.4L1303.2 1162.8L1303.5 1150.4L1303.9 1161.4L1304.2 1147.7L1304.6 1155.3L1304.9 1157.3L1305.2 1152.7L1305.6 1159.4L1305.9 1158.2L1306.3 1154.1L1306.6 1154.8L1306.9 1166.0L1307.3 1157.0L1307.6 1156.9L1308.0 1159.4L1308.3 1167.3L1308.6 1161.5L1309.0 1146.6L1309.3 1160.4L1309.6 1164.7L1310.0 1165.8L1310.3 1166.1L1310.7 1163.7L1311.0 1147.3L1311.3 1162.7L1311.7 1153.1L1312.0 1166.0L1312.4 1159.4L1312.7 1160.1L1313.0 1161.2L1313.4 1158.5L1313.7 1161.1L1314.1 1161.2L1314.4 1161.3L1314.7 1144.1L1315.1 1159.5L1315.4 1161.5L1315.8 1151.3L1316.1 1149.9L1316.4 1166.3L1316.8 1161.1L1317.1 1158.0L1317.4 1159.6L1317.8 1156.0L1318.1 1153.1L1318.5 1146.1L1318.8 1164.2L1319.1 1160.5L1319.5 1165.8L1319.8 1146.5L1320.2 1165.1L1320.5 1159.1L1320.8 1138.0L1321.2 1161.6L1321.5 1156.0L1321.9 1162.6L1322.2 1150.2L1322.5 1148.7L1322.9 1166.8L1323.2 1150.9L1323.6 1162.9L1323.9 1166.1L1324.2 1158.7L1324.6 1158.5L1324.9 1163.8L1325.2 1160.0L1325.6 1164.7L1325.9 1154.3L1326.3 1156.9L1326.6 1161.5L1326.9 1160.4L1327.3 1161.5L1327.6 1159.6L1328.0 1165.2L1328.3 1162.4L1328.5 1155.8L1336.7 1150.0L1337.0 1149.3L1337.4 1165.1L1337.7 1165.9L1338.1 1159.7L1338.4 1158.7L1338.7 1164.7L1339.1 1164.1L1339.4 1154.8L1339.8 1153.4L1340.1 1153.2L1340.4 1160.2L1340.8 1166.4L1341.1 1156.0L1341.5 1156.6L1341.8 1167.6L1342.1 1154.5L1342.5 1149.6L1342.8 1165.4L1343.2 1168.7L1343.5 1168.7L1343.8 1148.6L1344.2 1160.9L1344.5 1166.2L1344.9 1157.5L1345.2 1167.0L1345.5 1144.8L1345.9 1167.6L1346.2 1156.2L1346.6 1159.4L1346.9 1151.8L1347.2 1161.0L1347.6 1161.0L1347.9 1159.6L1348.3 1151.8L1348.6 1165.3L1348.9 1166.7L1349.3 1152.7L1349.6 1168.3L1350.0 1166.7L1350.3 1149.5L1350.6 1168.1L1351.0 1165.2L1351.3 1168.3L1351.7 1158.9L1352.0 1146.2L1352.3 1151.7L1352.7 1151.8L1353.0 1168.7L1353.4 1166.2L1353.7 1162.3L1354.0 1165.7L1354.4 1153.3L1354.7 1166.3L1355.1 1168.2L1355.4 1162.6L1355.7 1150.4L1356.1 1162.0L1356.4 1167.2L1356.8 1168.5L1357.1 1146.5L1357.4 1150.6L1357.8 1162.1L1358.1 1156.4L1358.5 1158.7L1358.8 1165.6L1359.1 1162.0L1359.5 1165.9L1359.8 1153.4L1360.2 1156.8L1360.5 1159.5L1360.8 1164.9L1361.2 1157.4L1361.5 1162.1L1361.9 1164.4L1362.2 1166.3L1362.5 1164.8L1362.9 1149.4L1363.2 1156.3L1363.6 1152.4L1363.9 1149.9L1364.2 1162.6L1364.6 1166.8L1364.9 1149.1L1365.3 1165.4L1365.6 1149.3L1365.9 1150.9L1366.3 1157.8L1366.6 1168.6L1367.0 1168.5L1367.3 1158.3L1367.6 1162.0L1368.0 1165.1L1368.3 1158.8L1368.7 1166.3L1369.0 1161.5L1369.3 1147.5L1369.7 1163.6L1370.0 1163.9L1370.4 1151.7L1370.7 1167.3L1371.0 1145.4L1371.4 1161.3L1371.7 1155.0L1372.1 1163.5L1372.4 1157.3L1372.7 1146.6L1373.1 1167.3L1373.4 1155.3L1373.8 1155.7L1374.1 1167.7L1374.4 1153.1L1374.8 1159.1L1375.1 1155.1L1375.5 1154.7L1375.8 1154.9L1376.1 1151.6L1376.5 1162.6L1376.8 1157.9L1377.2 1155.8L1377.5 1153.5L1377.8 1159.9L1378.2 1154.2L1378.5 1162.7L1378.9 1166.9L1379.2 1152.2L1379.5 1161.0L1379.9 1165.5L1380.2 1160.0L1380.6 1153.4L1380.9 1161.2L1381.2 1159.7L1381.6 1166.3L1381.9 1155.6L1382.3 1151.5L1382.6 1154.5L1382.9 1145.9L1383.3 1167.5L1383.6 1167.8L1384.0 1164.2L1384.3 1168.1L1384.6 1162.0L1385.0 1150.5L1385.3 1146.6L1385.7 1150.6L1386.0 1167.1L1386.3 1157.2L1386.7 1165.8L1387.0 1157.8L1387.4 1166.8L1387.7 1158.7L1388.0 1157.9L1388.4 1161.1L1388.7 1162.8L1389.1 1164.9L1389.4 1161.9L1389.7 1159.9L1390.1 1147.7L1390.4 1166.5L1390.8 1167.3L1391.1 1153.5L1391.4 1158.5L1391.8 1168.2L1392.1 1152.1L1392.5 1159.8L1392.8 1147.5L1393.1 1151.9L1393.5 1153.1L1393.8 1148.1L1394.2 1165.4L1394.5 1166.9L1394.8 1158.6L1395.2 1165.3L1395.5 1166.8L1395.9 1163.8L1396.2 1163.9L1396.5 1166.1L1396.9 1161.7L1397.2 1151.8L1397.6 1164.2L1397.9 1151.3L1398.2 1153.0L1398.6 1159.4L1398.9 1154.0L1399.3 1147.0L1399.6 1160.9L1399.9 1164.5L1400.3 1148.7L1400.6 1156.8L1401.0 1147.6L1401.3 1161.0L1401.6 1154.9L1402.0 1166.9L1402.3 1158.0L1402.7 1147.0L1403.0 1167.1L1403.3 1160.4L1403.7 1156.7L1404.0 1158.3L1404.4 1166.2L1404.7 1160.3L1405.0 1163.2L1405.4 1164.9L1405.7 1155.6L1406.1 1167.3L1406.4 1151.0L1406.7 1159.0L1407.1 1149.2L1407.4 1158.1L1407.8 1164.5L1408.1 1166.8L1408.4 1165.4L1408.8 1155.4L1409.1 1164.8L1409.5 1164.3L1409.8 1147.3L1410.1 1167.9L1410.5 1160.4L1410.8 1158.5L1411.2 1152.6L1411.5 1160.1L1411.8 1168.0L1412.2 1157.4L1412.5 1161.7L1412.9 1157.8L1413.2 1166.1L1413.5 1154.7L1413.9 1167.1L1414.2 1160.6L1414.6 1157.9L1414.9 1164.9L1415.2 1150.6L1415.6 1158.1L1415.9 1154.5L1416.3 1167.3L1416.6 1156.3L1416.9 1158.8L1417.3 1152.8L1417.6 1165.8L1418.0 1162.1L1418.3 1157.6L1418.6 1157.2L1419.0 1168.0L1419.3 1161.4L1419.7 1152.5L1420.0 1166.6L1420.3 1158.9L1420.7 1154.2L1421.0 1165.7L1421.4 1151.7L1421.7 1153.8L1422.0 1156.3L1422.4 1155.1L1422.7 1160.7L1423.1 1167.9L1423.4 1157.1L1423.7 1165.7L1424.1 1151.9L1424.4 1164.6L1424.8 1148.7L1425.1 1152.1L1425.4 1157.0L1425.8 1162.6L1426.1 1156.5L1426.5 1146.4L1426.8 1159.3L1427.1 1164.0L1427.5 1160.3L1427.8 1162.9L1428.2 1154.1L1428.5 1154.5L1428.8 1144.9L1429.2 1163.5L1429.5 1156.9L1429.9 1168.1L1430.2 1163.2L1430.5 1152.4L1430.9 1164.4L1431.2 1145.2L1431.6 1165.9L1431.9 1149.4L1432.2 1152.0L1432.6 1149.7L1432.9 1163.3L1433.3 1152.6L1433.6 1153.8L1433.9 1148.2L1434.3 1163.4L1434.6 1147.3L1435.0 1168.4L1435.3 1147.7L1435.6 1145.7L1436.0 1162.2L1436.3 1156.6L1436.7 1156.5L1437.0 1166.7L1437.3 1163.7L1437.7 1161.6L1438.0 1150.5L1438.4 1160.8L1438.7 1166.9L1439.0 1154.5L1439.4 1153.6L1439.7 1155.8L1440.0 1153.2L1440.4 1157.8L1440.7 1166.2L1441.1 1166.1L1441.4 1164.1L1441.7 1161.0L1442.1 1155.7L1442.4 1167.3L1442.8 1160.2L1443.1 1147.5L1443.4 1161.3L1443.8 1149.3L1444.1 1163.3L1444.5 1149.8L1444.8 1166.2L1445.1 1165.1L1445.5 1148.0L1445.8 1166.2L1446.2 1163.7L1446.5 1145.6L1446.8 1154.2L1447.2 1150.7L1447.5 1164.3L1447.9 1165.8L1448.2 1151.6L1448.5 1153.4L1448.9 1162.1L1449.2 1158.2L1449.6 1163.4L1449.9 1153.5L1450.2 1161.8L1450.6 1166.2L1450.9 1167.5L1451.3 1160.4L1451.6 1153.3L1451.9 1148.3L1452.3 1163.3L1452.6 1165.8L1453.0 1164.3L1453.3 1148.2L1453.6 1145.7L1454.0 1167.5L1454.3 1164.0L1454.7 1150.1L1455.0 1147.0L1455.3 1146.8L1455.7 1167.4L1456.0 1166.6L1456.4 1156.4L1456.7 1165.9L1457.0 1150.1L1457.4 1148.0L1457.7 1164.3L1458.1 1146.0L1458.4 1148.4L1458.7 1167.9L1459.1 1146.0L1459.4 1154.1L1459.8 1154.0L1460.1 1163.8L1460.4 1147.3L1460.8 1148.7L1461.1 1147.2L1461.5 1160.9L1461.8 1159.1L1462.1 1146.0L1462.5 1155.6L1462.8 1158.5L1463.2 1164.1L1463.5 1165.5L1463.8 1151.8L1464.2 1148.4L1464.5 1150.1L1464.9 1161.1L1465.2 1147.2L1465.5 1150.0L1465.9 1157.3L1466.2 1149.2L1466.6 1147.3L1466.9 1167.2L1467.2 1153.7L1467.6 1152.4L1467.9 1153.2L1468.3 1162.9L1468.6 1158.7L1468.9 1166.7L1469.3 1145.5L1469.6 1164.6L1470.0 1151.2L1470.3 1153.5L1470.6 1161.3L1471.0 1168.0L1471.3 1149.2L1471.7 1163.7L1472.0 1159.1L1472.3 1162.2L1472.7 1151.8L1473.0 1160.0L1473.4 1148.7L1473.7 1159.4L1474.0 1150.7L1474.4 1154.3L1474.7 1157.2L1475.1 1152.1L1475.4 1167.5L1475.7 1157.3L1476.1 1148.5L1476.4 1162.3L1476.8 1156.8L1477.1 1151.2L1477.4 1155.2L1477.8 1162.5L1478.1 1160.7L1478.5 1157.4L1478.8 1146.6L1479.1 1161.4L1479.5 1146.4L1479.8 1155.6L1480.2 1156.4L1480.5 1161.7L1480.8 1166.0L1481.2 1163.4L1481.5 1162.6L1481.9 1162.9L1482.2 1163.4L1482.5 1165.5L1482.9 1166.2L1483.2 1167.4L1483.6 1146.5L1483.9 1163.7L1484.2 1152.6L1484.6 1161.4L1484.9 1156.1L1485.3 1160.6L1485.6 1162.0L1485.9 1159.8L1486.3 1154.5L1486.6 1163.2L1487.0 1162.9L1487.3 1159.4L1487.6 1152.0L1488.0 1159.7L1488.3 1146.1L1488.7 1144.5L1489.0 1166.3L1489.3 1164.4L1489.7 1157.1L1490.0 1163.8L1490.4 1166.6L1490.7 1165.8L1491.0 1155.7L1491.4 1164.4L1491.7 1151.7L1492.1 1143.9L1492.4 1157.9L1492.7 1151.3L1493.1 1149.7L1493.4 1155.3L1493.8 1158.6L1494.1 1150.1L1494.4 1158.0L1494.8 1160.0L1495.1 1159.4L1495.5 1166.1L1495.8 1162.5L1496.1 1166.4L1496.5 1166.5L1496.8 1148.4L1497.2 1143.2L1497.5 1156.8L1497.8 1152.2L1498.2 1156.8L1498.5 1135.0L1498.9 1163.4L1499.2 1131.0L1499.5 1163.3L1499.9 1127.5L1500.2 1152.1L1500.6 1154.4L1500.9 1166.7L1501.2 1162.1L1501.6 1145.0L1501.9 1146.5L1502.3 1153.3L1502.6 1166.3L1502.9 1165.0L1503.3 1148.5L1503.6 1162.2L1504.0 1166.1L1504.3 1147.2L1504.6 1167.1L1505.0 1148.5L1505.3 1159.9L1505.7 1166.0L1506.0 1148.9L1506.3 1155.5L1506.7 1152.3L1507.0 1148.0L1507.4 1159.7L1507.7 1147.5L1508.0 1162.8L1508.4 1160.2L1508.7 1165.1L1509.1 1156.5L1509.4 1162.6L1509.7 1152.2L1510.1 1161.2L1510.4 1157.6L1510.8 1153.5L1511.1 1146.1L1511.4 1166.4L1511.8 1163.4L1512.1 1161.2L1512.5 1143.7L1512.8 1154.4L1513.1 1162.3L1513.5 1148.1L1513.8 1152.9L1514.2 1160.6L1514.5 1155.2L1514.8 1148.0L1515.2 1167.1L1515.5 1145.1L1515.9 1149.3L1516.2 1156.8L1516.5 1160.8L1516.9 1165.7L1517.2 1164.8L1517.6 1153.3L1517.9 1150.3L1518.2 1160.0L1518.6 1165.0L1518.9 1155.6L1519.3 1150.2L1519.6 1150.2L1519.9 1156.5L1520.3 1166.2L1520.6 1153.5L1521.0 1154.9L1521.3 1154.8L1521.6 1153.2L1522.0 1152.7L1522.3 1157.1L1522.7 1157.4L1523.0 1162.3L1523.3 1166.0L1523.7 1146.7L1524.0 1160.4L1524.4 1164.7L1524.7 1164.2L1525.0 1153.2L1525.4 1160.2L1525.7 1151.5L1526.1 1163.0L1526.4 1157.5L1526.7 1100.4L1527.1 1151.4L1527.4 1147.6L1527.8 1162.6L1528.1 1150.9L1528.4 1165.0L1528.8 1153.5L1529.1 1155.6L1529.5 1153.2L1529.8 1158.8L1530.1 1166.0L1530.5 1153.2L1530.8 1157.5L1531.2 1152.6L1531.5 1152.9L1531.8 1158.6L1532.2 1160.4L1532.5 1166.1L1532.9 1154.8L1533.2 1164.1L1533.5 1143.3L1533.9 1153.8L1534.2 1152.8L1534.6 1156.8L1534.9 1159.4L1535.2 1145.3L1535.6 1154.8L1535.9 1151.4L1536.3 1161.8L1536.6 1149.4L1536.9 1150.7L1537.3 1146.6L1537.6 1155.8L1538.0 1153.4L1538.3 1166.4L1538.6 1157.4L1539.0 1163.8L1539.3 1143.8L1539.7 1154.3L1540.0 1162.5L1540.3 1151.9L1540.7 1163.9L1541.0 1158.9L1541.4 1146.2L1541.7 1163.4L1542.0 1155.8L1550.2 1148.3L1550.4 1163.8L1550.7 1154.0L1551.1 1156.8L1551.4 1163.8L1551.8 1161.8L1552.1 1160.5L1552.5 1140.8L1552.8 1156.1L1553.1 1149.5L1553.5 1164.5L1553.8 1150.6L1554.2 1159.8L1554.5 1159.2L1554.9 1158.2L1555.2 1142.4L1555.5 1152.8L1555.9 1158.0L1556.2 1159.6L1556.6 1145.8L1556.9 1154.2L1557.3 1147.7L1557.6 1144.3L1557.9 1162.1L1558.3 1160.2L1558.6 1164.3L1559.0 1154.4L1559.3 1147.4L1559.7 1140.0L1560.0 1163.3L1560.3 1166.2L1560.7 1142.3L1561.0 1156.6L1561.4 1156.5L1561.7 1163.4L1562.1 1138.0L1562.4 1141.0L1562.7 1162.0L1563.1 1161.9L1563.4 1137.0L1563.8 1162.3L1564.1 1148.7L1564.5 1139.0L1564.8 1154.6L1565.1 1148.0L1565.5 1155.4L1565.8 1155.0L1566.2 1158.1L1566.5 1151.4L1566.9 1164.2L1567.2 1161.4L1567.5 1150.0L1567.9 1158.7L1568.2 1156.1L1568.6 1157.7L1568.9 1154.7L1569.3 1160.9L1569.6 1155.7L1570.0 1160.4L1605.0 1158.2L1605.8 1143.0L1606.6 1162.5L1607.4 1141.7L1608.2 1161.0L1609.0 1143.8L1646.7 1135.0L1647.5 1154.0L1648.3 1140.0L1649.1 1156.0L1649.9 1107.5L1650.8 1119.2L1676.7 1135.4L1677.5 1150.0L1678.3 1136.0L1679.3 1120.0L1680.1 1155.0L1681.0 1137.0L1682.0 1150.0L1683.0 1138.0L1684.2 1148.0L1685.0 1137.0L1685.8 1157.0L1710.8 1138.8L1711.6 1150.0L1712.4 1140.5L1713.5 1161.2L1714.5 1141.0L1715.5 1150.5L1717.3 1129.6L1718.8 1147.0L1752.5 1135.0L1753.2 1127.5L1753.9 1137.5L1754.6 1127.5L1755.3 1125.8L1818.9 946.5L1822.8 892.0L1824.8 853.0L1828.5 773.0L1831.2 700.0L1834.3 640.0L1844.6 505.0L1858.4 330.0L1875.6 113.0" stroke="#000000"/>
</g>
<rect x="280.5" y="112.4" width="1595.0" height="1066.0" fill="none" stroke="#000" stroke-width="3.33" stroke-linejoin="miter"/>
<text transform="translate(331.03 1328.65) rotate(-30)" style="font-size:41.667px;font-family:'DejaVu Sans',sans-serif">01-13 02</text>
<text transform="translate(576.27 1328.65) rotate(-30)" style="font-size:41.667px;font-family:'DejaVu Sans',sans-serif">01-13 04</text>
<text transform="translate(821.51 1328.65) rotate(-30)" style="font-size:41.667px;font-family:'DejaVu Sans',sans-serif">01-13 06</text>
<text transform="translate(1066.75 1328.65) rotate(-30)" style="font-size:41.667px;font-family:'DejaVu Sans',sans-serif">01-13 08</text>
<text transform="translate(1311.99 1328.65) rotate(-30)" style="font-size:41.667px;font-family:'DejaVu Sans',sans-serif">01-13 10</text>
<text transform="translate(1557.23 1328.65) rotate(-30)" style="font-size:41.667px;font-family:'DejaVu Sans',sans-serif">01-13 12</text>
<text x="1078" y="1387.6" text-anchor="middle" style="font-size:41.667px;font-family:'DejaVu Sans',sans-serif">Time</text>
<text style="font-family:'DejaVu Sans',sans-serif"><tspan x="109.37" y="239.07" style="font-size:41.667px">2</tspan><tspan x="143.00" y="239.07" style="font-size:41.667px">×</tspan><tspan x="186.03" y="239.07" style="font-size:41.667px">1</tspan><tspan x="212.54" y="239.07" style="font-size:41.667px">0</tspan><tspan x="238.93" y="223.12" style="font-size:29.167px">8</tspan></text>
<text style="font-family:'DejaVu Sans',sans-serif"><tspan x="179.20" y="715.80" style="font-size:41.667px">1</tspan><tspan x="205.71" y="715.80" style="font-size:41.667px">0</tspan><tspan x="232.10" y="699.85" style="font-size:29.167px">8</tspan></text>
<text style="font-family:'DejaVu Sans',sans-serif"><tspan x="109.37" y="1067.01" style="font-size:41.667px">6</tspan><tspan x="143.00" y="1067.01" style="font-size:41.667px">×</tspan><tspan x="186.03" y="1067.01" style="font-size:41.667px">1</tspan><tspan x="212.54" y="1067.01" style="font-size:41.667px">0</tspan><tspan x="238.93" y="1051.06" style="font-size:29.167px">7</tspan></text>
<text transform="translate(81.83 645.4) rotate(-90)" text-anchor="middle" style="font-size:41.667px;font-family:'DejaVu Sans',sans-serif">ADU</text>
<text x="1078" y="87.4" text-anchor="middle" style="font-size:50px;font-family:'DejaVu Sans',sans-serif">Peak field sums for USL01D_20260113_005649_899660</text>
<path d="M1541.4 270.8H1845.6Q1853.9 270.8 1853.9 262.5V141.4Q1853.9 133.1 1845.6 133.1H1541.4Q1533.1 133.1 1533.1 141.4V262.5Q1533.1 270.8 1541.4 270.8Z" fill="#fff" stroke="#ccc" stroke-width="4.17" opacity="0.8"/>
<path d="M1548.9 168H1633.9" stroke="#ff0000" stroke-width="2.08" fill="none"/>
<path d="M1548.9 230.9H1633.9" stroke="#000" stroke-width="2.08" fill="none"/>
<text x="1666.9" y="182.8" style="font-size:41.667px;font-family:'DejaVu Sans',sans-serif">Peak</text>
<text x="1666.9" y="245.0" style="font-size:41.667px;font-family:'DejaVu Sans',sans-serif">Average</text>
</svg>
</body></html>
